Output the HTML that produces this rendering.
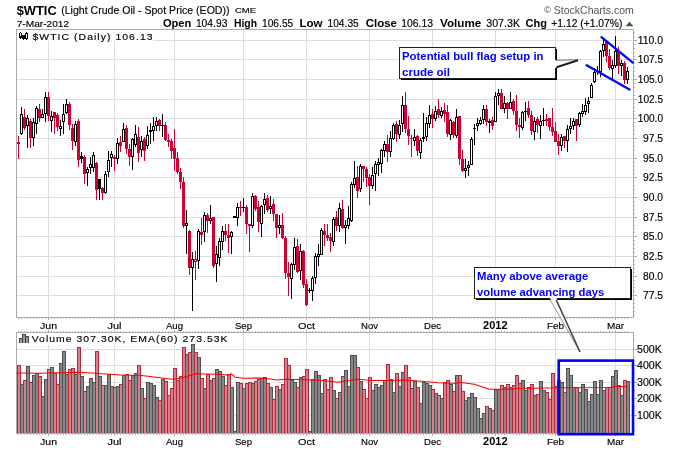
<!DOCTYPE html>
<html><head><meta charset="utf-8"><title>$WTIC</title>
<style>
html,body{margin:0;padding:0;background:#fff;}
body{width:680px;height:450px;overflow:hidden;}
svg{display:block;font-family:"Liberation Sans",sans-serif;}
</style></head><body>
<svg width="680" height="450" viewBox="0 0 680 450">
<defs><filter id="idf" x="-5%" y="-50%" width="110%" height="200%" color-interpolation-filters="sRGB"><feOffset dx="0" dy="0"/></filter></defs>
<rect width="680" height="450" fill="#fff"/>
<g shape-rendering="crispEdges">
<rect x="17" y="40" width="616" height="1" fill="#dddddd"/>
<rect x="17" y="59" width="616" height="1" fill="#dddddd"/>
<rect x="17" y="79" width="616" height="1" fill="#dddddd"/>
<rect x="17" y="99" width="616" height="1" fill="#dddddd"/>
<rect x="17" y="118" width="616" height="1" fill="#dddddd"/>
<rect x="17" y="138" width="616" height="1" fill="#dddddd"/>
<rect x="17" y="158" width="616" height="1" fill="#dddddd"/>
<rect x="17" y="177" width="616" height="1" fill="#dddddd"/>
<rect x="17" y="197" width="616" height="1" fill="#dddddd"/>
<rect x="17" y="217" width="616" height="1" fill="#dddddd"/>
<rect x="17" y="236" width="616" height="1" fill="#dddddd"/>
<rect x="17" y="256" width="616" height="1" fill="#dddddd"/>
<rect x="17" y="276" width="616" height="1" fill="#dddddd"/>
<rect x="17" y="295" width="616" height="1" fill="#dddddd"/>
<rect x="48" y="30" width="1" height="287" fill="#dddddd"/>
<rect x="48" y="333" width="1" height="100" fill="#dddddd"/>
<rect x="114" y="30" width="1" height="287" fill="#dddddd"/>
<rect x="114" y="333" width="1" height="100" fill="#dddddd"/>
<rect x="174" y="30" width="1" height="287" fill="#dddddd"/>
<rect x="174" y="333" width="1" height="100" fill="#dddddd"/>
<rect x="243" y="30" width="1" height="287" fill="#dddddd"/>
<rect x="243" y="333" width="1" height="100" fill="#dddddd"/>
<rect x="306" y="30" width="1" height="287" fill="#dddddd"/>
<rect x="306" y="333" width="1" height="100" fill="#dddddd"/>
<rect x="369" y="30" width="1" height="287" fill="#dddddd"/>
<rect x="369" y="333" width="1" height="100" fill="#dddddd"/>
<rect x="432" y="30" width="1" height="287" fill="#dddddd"/>
<rect x="432" y="333" width="1" height="100" fill="#dddddd"/>
<rect x="495" y="30" width="1" height="287" fill="#dddddd"/>
<rect x="495" y="333" width="1" height="100" fill="#dddddd"/>
<rect x="555" y="30" width="1" height="287" fill="#dddddd"/>
<rect x="555" y="333" width="1" height="100" fill="#dddddd"/>
<rect x="615" y="30" width="1" height="287" fill="#dddddd"/>
<rect x="615" y="333" width="1" height="100" fill="#dddddd"/>
<rect x="17" y="349" width="616" height="1" fill="#dddddd"/>
<rect x="17" y="365" width="616" height="1" fill="#dddddd"/>
<rect x="17" y="382" width="616" height="1" fill="#dddddd"/>
<rect x="17" y="398" width="616" height="1" fill="#dddddd"/>
<rect x="17" y="415" width="616" height="1" fill="#dddddd"/>
<rect x="16" y="29" width="618" height="1" fill="#aaaaaa"/>
<rect x="16" y="29" width="1" height="289" fill="#aaaaaa"/>
<rect x="633" y="29" width="1" height="289" fill="#aaaaaa"/>
<rect x="16" y="317" width="618" height="1" fill="#aaaaaa"/>
<rect x="16" y="332" width="618" height="1" fill="#aaaaaa"/>
<rect x="16" y="332" width="1" height="102" fill="#aaaaaa"/>
<rect x="633" y="332" width="1" height="102" fill="#aaaaaa"/>
<rect x="16" y="433" width="618" height="1" fill="#aaaaaa"/>
<rect x="18" y="318" width="1" height="1" fill="#bbbbbb"/>
<rect x="18" y="331" width="1" height="1" fill="#bbbbbb"/>
<rect x="18" y="434" width="1" height="1" fill="#bbbbbb"/>
<rect x="21" y="318" width="1" height="1" fill="#bbbbbb"/>
<rect x="21" y="331" width="1" height="1" fill="#bbbbbb"/>
<rect x="21" y="434" width="1" height="1" fill="#bbbbbb"/>
<rect x="24" y="318" width="1" height="1" fill="#bbbbbb"/>
<rect x="24" y="331" width="1" height="1" fill="#bbbbbb"/>
<rect x="24" y="434" width="1" height="1" fill="#bbbbbb"/>
<rect x="27" y="318" width="1" height="1" fill="#bbbbbb"/>
<rect x="27" y="331" width="1" height="1" fill="#bbbbbb"/>
<rect x="27" y="434" width="1" height="1" fill="#bbbbbb"/>
<rect x="30" y="318" width="1" height="1" fill="#bbbbbb"/>
<rect x="30" y="331" width="1" height="1" fill="#bbbbbb"/>
<rect x="30" y="434" width="1" height="1" fill="#bbbbbb"/>
<rect x="33" y="318" width="1" height="1" fill="#bbbbbb"/>
<rect x="33" y="331" width="1" height="1" fill="#bbbbbb"/>
<rect x="33" y="434" width="1" height="1" fill="#bbbbbb"/>
<rect x="36" y="318" width="1" height="1" fill="#bbbbbb"/>
<rect x="36" y="331" width="1" height="1" fill="#bbbbbb"/>
<rect x="36" y="434" width="1" height="1" fill="#bbbbbb"/>
<rect x="39" y="318" width="1" height="1" fill="#bbbbbb"/>
<rect x="39" y="331" width="1" height="1" fill="#bbbbbb"/>
<rect x="39" y="434" width="1" height="1" fill="#bbbbbb"/>
<rect x="42" y="318" width="1" height="1" fill="#bbbbbb"/>
<rect x="42" y="331" width="1" height="1" fill="#bbbbbb"/>
<rect x="42" y="434" width="1" height="1" fill="#bbbbbb"/>
<rect x="45" y="318" width="1" height="1" fill="#bbbbbb"/>
<rect x="45" y="331" width="1" height="1" fill="#bbbbbb"/>
<rect x="45" y="434" width="1" height="1" fill="#bbbbbb"/>
<rect x="48" y="318" width="1" height="1" fill="#bbbbbb"/>
<rect x="48" y="331" width="1" height="1" fill="#bbbbbb"/>
<rect x="48" y="434" width="1" height="1" fill="#bbbbbb"/>
<rect x="51" y="318" width="1" height="1" fill="#bbbbbb"/>
<rect x="51" y="331" width="1" height="1" fill="#bbbbbb"/>
<rect x="51" y="434" width="1" height="1" fill="#bbbbbb"/>
<rect x="54" y="318" width="1" height="1" fill="#bbbbbb"/>
<rect x="54" y="331" width="1" height="1" fill="#bbbbbb"/>
<rect x="54" y="434" width="1" height="1" fill="#bbbbbb"/>
<rect x="57" y="318" width="1" height="1" fill="#bbbbbb"/>
<rect x="57" y="331" width="1" height="1" fill="#bbbbbb"/>
<rect x="57" y="434" width="1" height="1" fill="#bbbbbb"/>
<rect x="60" y="318" width="1" height="1" fill="#bbbbbb"/>
<rect x="60" y="331" width="1" height="1" fill="#bbbbbb"/>
<rect x="60" y="434" width="1" height="1" fill="#bbbbbb"/>
<rect x="63" y="318" width="1" height="1" fill="#bbbbbb"/>
<rect x="63" y="331" width="1" height="1" fill="#bbbbbb"/>
<rect x="63" y="434" width="1" height="1" fill="#bbbbbb"/>
<rect x="66" y="318" width="1" height="1" fill="#bbbbbb"/>
<rect x="66" y="331" width="1" height="1" fill="#bbbbbb"/>
<rect x="66" y="434" width="1" height="1" fill="#bbbbbb"/>
<rect x="69" y="318" width="1" height="1" fill="#bbbbbb"/>
<rect x="69" y="331" width="1" height="1" fill="#bbbbbb"/>
<rect x="69" y="434" width="1" height="1" fill="#bbbbbb"/>
<rect x="72" y="318" width="1" height="1" fill="#bbbbbb"/>
<rect x="72" y="331" width="1" height="1" fill="#bbbbbb"/>
<rect x="72" y="434" width="1" height="1" fill="#bbbbbb"/>
<rect x="75" y="318" width="1" height="1" fill="#bbbbbb"/>
<rect x="75" y="331" width="1" height="1" fill="#bbbbbb"/>
<rect x="75" y="434" width="1" height="1" fill="#bbbbbb"/>
<rect x="78" y="318" width="1" height="1" fill="#bbbbbb"/>
<rect x="78" y="331" width="1" height="1" fill="#bbbbbb"/>
<rect x="78" y="434" width="1" height="1" fill="#bbbbbb"/>
<rect x="81" y="318" width="1" height="1" fill="#bbbbbb"/>
<rect x="81" y="331" width="1" height="1" fill="#bbbbbb"/>
<rect x="81" y="434" width="1" height="1" fill="#bbbbbb"/>
<rect x="84" y="318" width="1" height="1" fill="#bbbbbb"/>
<rect x="84" y="331" width="1" height="1" fill="#bbbbbb"/>
<rect x="84" y="434" width="1" height="1" fill="#bbbbbb"/>
<rect x="87" y="318" width="1" height="1" fill="#bbbbbb"/>
<rect x="87" y="331" width="1" height="1" fill="#bbbbbb"/>
<rect x="87" y="434" width="1" height="1" fill="#bbbbbb"/>
<rect x="90" y="318" width="1" height="1" fill="#bbbbbb"/>
<rect x="90" y="331" width="1" height="1" fill="#bbbbbb"/>
<rect x="90" y="434" width="1" height="1" fill="#bbbbbb"/>
<rect x="93" y="318" width="1" height="1" fill="#bbbbbb"/>
<rect x="93" y="331" width="1" height="1" fill="#bbbbbb"/>
<rect x="93" y="434" width="1" height="1" fill="#bbbbbb"/>
<rect x="96" y="318" width="1" height="1" fill="#bbbbbb"/>
<rect x="96" y="331" width="1" height="1" fill="#bbbbbb"/>
<rect x="96" y="434" width="1" height="1" fill="#bbbbbb"/>
<rect x="99" y="318" width="1" height="1" fill="#bbbbbb"/>
<rect x="99" y="331" width="1" height="1" fill="#bbbbbb"/>
<rect x="99" y="434" width="1" height="1" fill="#bbbbbb"/>
<rect x="102" y="318" width="1" height="1" fill="#bbbbbb"/>
<rect x="102" y="331" width="1" height="1" fill="#bbbbbb"/>
<rect x="102" y="434" width="1" height="1" fill="#bbbbbb"/>
<rect x="105" y="318" width="1" height="1" fill="#bbbbbb"/>
<rect x="105" y="331" width="1" height="1" fill="#bbbbbb"/>
<rect x="105" y="434" width="1" height="1" fill="#bbbbbb"/>
<rect x="108" y="318" width="1" height="1" fill="#bbbbbb"/>
<rect x="108" y="331" width="1" height="1" fill="#bbbbbb"/>
<rect x="108" y="434" width="1" height="1" fill="#bbbbbb"/>
<rect x="111" y="318" width="1" height="1" fill="#bbbbbb"/>
<rect x="111" y="331" width="1" height="1" fill="#bbbbbb"/>
<rect x="111" y="434" width="1" height="1" fill="#bbbbbb"/>
<rect x="114" y="318" width="1" height="1" fill="#bbbbbb"/>
<rect x="114" y="331" width="1" height="1" fill="#bbbbbb"/>
<rect x="114" y="434" width="1" height="1" fill="#bbbbbb"/>
<rect x="117" y="318" width="1" height="1" fill="#bbbbbb"/>
<rect x="117" y="331" width="1" height="1" fill="#bbbbbb"/>
<rect x="117" y="434" width="1" height="1" fill="#bbbbbb"/>
<rect x="120" y="318" width="1" height="1" fill="#bbbbbb"/>
<rect x="120" y="331" width="1" height="1" fill="#bbbbbb"/>
<rect x="120" y="434" width="1" height="1" fill="#bbbbbb"/>
<rect x="123" y="318" width="1" height="1" fill="#bbbbbb"/>
<rect x="123" y="331" width="1" height="1" fill="#bbbbbb"/>
<rect x="123" y="434" width="1" height="1" fill="#bbbbbb"/>
<rect x="126" y="318" width="1" height="1" fill="#bbbbbb"/>
<rect x="126" y="331" width="1" height="1" fill="#bbbbbb"/>
<rect x="126" y="434" width="1" height="1" fill="#bbbbbb"/>
<rect x="129" y="318" width="1" height="1" fill="#bbbbbb"/>
<rect x="129" y="331" width="1" height="1" fill="#bbbbbb"/>
<rect x="129" y="434" width="1" height="1" fill="#bbbbbb"/>
<rect x="132" y="318" width="1" height="1" fill="#bbbbbb"/>
<rect x="132" y="331" width="1" height="1" fill="#bbbbbb"/>
<rect x="132" y="434" width="1" height="1" fill="#bbbbbb"/>
<rect x="135" y="318" width="1" height="1" fill="#bbbbbb"/>
<rect x="135" y="331" width="1" height="1" fill="#bbbbbb"/>
<rect x="135" y="434" width="1" height="1" fill="#bbbbbb"/>
<rect x="138" y="318" width="1" height="1" fill="#bbbbbb"/>
<rect x="138" y="331" width="1" height="1" fill="#bbbbbb"/>
<rect x="138" y="434" width="1" height="1" fill="#bbbbbb"/>
<rect x="141" y="318" width="1" height="1" fill="#bbbbbb"/>
<rect x="141" y="331" width="1" height="1" fill="#bbbbbb"/>
<rect x="141" y="434" width="1" height="1" fill="#bbbbbb"/>
<rect x="144" y="318" width="1" height="1" fill="#bbbbbb"/>
<rect x="144" y="331" width="1" height="1" fill="#bbbbbb"/>
<rect x="144" y="434" width="1" height="1" fill="#bbbbbb"/>
<rect x="147" y="318" width="1" height="1" fill="#bbbbbb"/>
<rect x="147" y="331" width="1" height="1" fill="#bbbbbb"/>
<rect x="147" y="434" width="1" height="1" fill="#bbbbbb"/>
<rect x="150" y="318" width="1" height="1" fill="#bbbbbb"/>
<rect x="150" y="331" width="1" height="1" fill="#bbbbbb"/>
<rect x="150" y="434" width="1" height="1" fill="#bbbbbb"/>
<rect x="153" y="318" width="1" height="1" fill="#bbbbbb"/>
<rect x="153" y="331" width="1" height="1" fill="#bbbbbb"/>
<rect x="153" y="434" width="1" height="1" fill="#bbbbbb"/>
<rect x="156" y="318" width="1" height="1" fill="#bbbbbb"/>
<rect x="156" y="331" width="1" height="1" fill="#bbbbbb"/>
<rect x="156" y="434" width="1" height="1" fill="#bbbbbb"/>
<rect x="159" y="318" width="1" height="1" fill="#bbbbbb"/>
<rect x="159" y="331" width="1" height="1" fill="#bbbbbb"/>
<rect x="159" y="434" width="1" height="1" fill="#bbbbbb"/>
<rect x="162" y="318" width="1" height="1" fill="#bbbbbb"/>
<rect x="162" y="331" width="1" height="1" fill="#bbbbbb"/>
<rect x="162" y="434" width="1" height="1" fill="#bbbbbb"/>
<rect x="165" y="318" width="1" height="1" fill="#bbbbbb"/>
<rect x="165" y="331" width="1" height="1" fill="#bbbbbb"/>
<rect x="165" y="434" width="1" height="1" fill="#bbbbbb"/>
<rect x="168" y="318" width="1" height="1" fill="#bbbbbb"/>
<rect x="168" y="331" width="1" height="1" fill="#bbbbbb"/>
<rect x="168" y="434" width="1" height="1" fill="#bbbbbb"/>
<rect x="171" y="318" width="1" height="1" fill="#bbbbbb"/>
<rect x="171" y="331" width="1" height="1" fill="#bbbbbb"/>
<rect x="171" y="434" width="1" height="1" fill="#bbbbbb"/>
<rect x="174" y="318" width="1" height="1" fill="#bbbbbb"/>
<rect x="174" y="331" width="1" height="1" fill="#bbbbbb"/>
<rect x="174" y="434" width="1" height="1" fill="#bbbbbb"/>
<rect x="177" y="318" width="1" height="1" fill="#bbbbbb"/>
<rect x="177" y="331" width="1" height="1" fill="#bbbbbb"/>
<rect x="177" y="434" width="1" height="1" fill="#bbbbbb"/>
<rect x="180" y="318" width="1" height="1" fill="#bbbbbb"/>
<rect x="180" y="331" width="1" height="1" fill="#bbbbbb"/>
<rect x="180" y="434" width="1" height="1" fill="#bbbbbb"/>
<rect x="183" y="318" width="1" height="1" fill="#bbbbbb"/>
<rect x="183" y="331" width="1" height="1" fill="#bbbbbb"/>
<rect x="183" y="434" width="1" height="1" fill="#bbbbbb"/>
<rect x="186" y="318" width="1" height="1" fill="#bbbbbb"/>
<rect x="186" y="331" width="1" height="1" fill="#bbbbbb"/>
<rect x="186" y="434" width="1" height="1" fill="#bbbbbb"/>
<rect x="189" y="318" width="1" height="1" fill="#bbbbbb"/>
<rect x="189" y="331" width="1" height="1" fill="#bbbbbb"/>
<rect x="189" y="434" width="1" height="1" fill="#bbbbbb"/>
<rect x="192" y="318" width="1" height="1" fill="#bbbbbb"/>
<rect x="192" y="331" width="1" height="1" fill="#bbbbbb"/>
<rect x="192" y="434" width="1" height="1" fill="#bbbbbb"/>
<rect x="195" y="318" width="1" height="1" fill="#bbbbbb"/>
<rect x="195" y="331" width="1" height="1" fill="#bbbbbb"/>
<rect x="195" y="434" width="1" height="1" fill="#bbbbbb"/>
<rect x="198" y="318" width="1" height="1" fill="#bbbbbb"/>
<rect x="198" y="331" width="1" height="1" fill="#bbbbbb"/>
<rect x="198" y="434" width="1" height="1" fill="#bbbbbb"/>
<rect x="201" y="318" width="1" height="1" fill="#bbbbbb"/>
<rect x="201" y="331" width="1" height="1" fill="#bbbbbb"/>
<rect x="201" y="434" width="1" height="1" fill="#bbbbbb"/>
<rect x="204" y="318" width="1" height="1" fill="#bbbbbb"/>
<rect x="204" y="331" width="1" height="1" fill="#bbbbbb"/>
<rect x="204" y="434" width="1" height="1" fill="#bbbbbb"/>
<rect x="207" y="318" width="1" height="1" fill="#bbbbbb"/>
<rect x="207" y="331" width="1" height="1" fill="#bbbbbb"/>
<rect x="207" y="434" width="1" height="1" fill="#bbbbbb"/>
<rect x="210" y="318" width="1" height="1" fill="#bbbbbb"/>
<rect x="210" y="331" width="1" height="1" fill="#bbbbbb"/>
<rect x="210" y="434" width="1" height="1" fill="#bbbbbb"/>
<rect x="213" y="318" width="1" height="1" fill="#bbbbbb"/>
<rect x="213" y="331" width="1" height="1" fill="#bbbbbb"/>
<rect x="213" y="434" width="1" height="1" fill="#bbbbbb"/>
<rect x="216" y="318" width="1" height="1" fill="#bbbbbb"/>
<rect x="216" y="331" width="1" height="1" fill="#bbbbbb"/>
<rect x="216" y="434" width="1" height="1" fill="#bbbbbb"/>
<rect x="219" y="318" width="1" height="1" fill="#bbbbbb"/>
<rect x="219" y="331" width="1" height="1" fill="#bbbbbb"/>
<rect x="219" y="434" width="1" height="1" fill="#bbbbbb"/>
<rect x="222" y="318" width="1" height="1" fill="#bbbbbb"/>
<rect x="222" y="331" width="1" height="1" fill="#bbbbbb"/>
<rect x="222" y="434" width="1" height="1" fill="#bbbbbb"/>
<rect x="225" y="318" width="1" height="1" fill="#bbbbbb"/>
<rect x="225" y="331" width="1" height="1" fill="#bbbbbb"/>
<rect x="225" y="434" width="1" height="1" fill="#bbbbbb"/>
<rect x="228" y="318" width="1" height="1" fill="#bbbbbb"/>
<rect x="228" y="331" width="1" height="1" fill="#bbbbbb"/>
<rect x="228" y="434" width="1" height="1" fill="#bbbbbb"/>
<rect x="231" y="318" width="1" height="1" fill="#bbbbbb"/>
<rect x="231" y="331" width="1" height="1" fill="#bbbbbb"/>
<rect x="231" y="434" width="1" height="1" fill="#bbbbbb"/>
<rect x="234" y="318" width="1" height="1" fill="#bbbbbb"/>
<rect x="234" y="331" width="1" height="1" fill="#bbbbbb"/>
<rect x="234" y="434" width="1" height="1" fill="#bbbbbb"/>
<rect x="237" y="318" width="1" height="1" fill="#bbbbbb"/>
<rect x="237" y="331" width="1" height="1" fill="#bbbbbb"/>
<rect x="237" y="434" width="1" height="1" fill="#bbbbbb"/>
<rect x="240" y="318" width="1" height="1" fill="#bbbbbb"/>
<rect x="240" y="331" width="1" height="1" fill="#bbbbbb"/>
<rect x="240" y="434" width="1" height="1" fill="#bbbbbb"/>
<rect x="243" y="318" width="1" height="1" fill="#bbbbbb"/>
<rect x="243" y="331" width="1" height="1" fill="#bbbbbb"/>
<rect x="243" y="434" width="1" height="1" fill="#bbbbbb"/>
<rect x="246" y="318" width="1" height="1" fill="#bbbbbb"/>
<rect x="246" y="331" width="1" height="1" fill="#bbbbbb"/>
<rect x="246" y="434" width="1" height="1" fill="#bbbbbb"/>
<rect x="249" y="318" width="1" height="1" fill="#bbbbbb"/>
<rect x="249" y="331" width="1" height="1" fill="#bbbbbb"/>
<rect x="249" y="434" width="1" height="1" fill="#bbbbbb"/>
<rect x="252" y="318" width="1" height="1" fill="#bbbbbb"/>
<rect x="252" y="331" width="1" height="1" fill="#bbbbbb"/>
<rect x="252" y="434" width="1" height="1" fill="#bbbbbb"/>
<rect x="255" y="318" width="1" height="1" fill="#bbbbbb"/>
<rect x="255" y="331" width="1" height="1" fill="#bbbbbb"/>
<rect x="255" y="434" width="1" height="1" fill="#bbbbbb"/>
<rect x="258" y="318" width="1" height="1" fill="#bbbbbb"/>
<rect x="258" y="331" width="1" height="1" fill="#bbbbbb"/>
<rect x="258" y="434" width="1" height="1" fill="#bbbbbb"/>
<rect x="261" y="318" width="1" height="1" fill="#bbbbbb"/>
<rect x="261" y="331" width="1" height="1" fill="#bbbbbb"/>
<rect x="261" y="434" width="1" height="1" fill="#bbbbbb"/>
<rect x="264" y="318" width="1" height="1" fill="#bbbbbb"/>
<rect x="264" y="331" width="1" height="1" fill="#bbbbbb"/>
<rect x="264" y="434" width="1" height="1" fill="#bbbbbb"/>
<rect x="267" y="318" width="1" height="1" fill="#bbbbbb"/>
<rect x="267" y="331" width="1" height="1" fill="#bbbbbb"/>
<rect x="267" y="434" width="1" height="1" fill="#bbbbbb"/>
<rect x="270" y="318" width="1" height="1" fill="#bbbbbb"/>
<rect x="270" y="331" width="1" height="1" fill="#bbbbbb"/>
<rect x="270" y="434" width="1" height="1" fill="#bbbbbb"/>
<rect x="273" y="318" width="1" height="1" fill="#bbbbbb"/>
<rect x="273" y="331" width="1" height="1" fill="#bbbbbb"/>
<rect x="273" y="434" width="1" height="1" fill="#bbbbbb"/>
<rect x="276" y="318" width="1" height="1" fill="#bbbbbb"/>
<rect x="276" y="331" width="1" height="1" fill="#bbbbbb"/>
<rect x="276" y="434" width="1" height="1" fill="#bbbbbb"/>
<rect x="279" y="318" width="1" height="1" fill="#bbbbbb"/>
<rect x="279" y="331" width="1" height="1" fill="#bbbbbb"/>
<rect x="279" y="434" width="1" height="1" fill="#bbbbbb"/>
<rect x="282" y="318" width="1" height="1" fill="#bbbbbb"/>
<rect x="282" y="331" width="1" height="1" fill="#bbbbbb"/>
<rect x="282" y="434" width="1" height="1" fill="#bbbbbb"/>
<rect x="285" y="318" width="1" height="1" fill="#bbbbbb"/>
<rect x="285" y="331" width="1" height="1" fill="#bbbbbb"/>
<rect x="285" y="434" width="1" height="1" fill="#bbbbbb"/>
<rect x="288" y="318" width="1" height="1" fill="#bbbbbb"/>
<rect x="288" y="331" width="1" height="1" fill="#bbbbbb"/>
<rect x="288" y="434" width="1" height="1" fill="#bbbbbb"/>
<rect x="291" y="318" width="1" height="1" fill="#bbbbbb"/>
<rect x="291" y="331" width="1" height="1" fill="#bbbbbb"/>
<rect x="291" y="434" width="1" height="1" fill="#bbbbbb"/>
<rect x="294" y="318" width="1" height="1" fill="#bbbbbb"/>
<rect x="294" y="331" width="1" height="1" fill="#bbbbbb"/>
<rect x="294" y="434" width="1" height="1" fill="#bbbbbb"/>
<rect x="297" y="318" width="1" height="1" fill="#bbbbbb"/>
<rect x="297" y="331" width="1" height="1" fill="#bbbbbb"/>
<rect x="297" y="434" width="1" height="1" fill="#bbbbbb"/>
<rect x="300" y="318" width="1" height="1" fill="#bbbbbb"/>
<rect x="300" y="331" width="1" height="1" fill="#bbbbbb"/>
<rect x="300" y="434" width="1" height="1" fill="#bbbbbb"/>
<rect x="303" y="318" width="1" height="1" fill="#bbbbbb"/>
<rect x="303" y="331" width="1" height="1" fill="#bbbbbb"/>
<rect x="303" y="434" width="1" height="1" fill="#bbbbbb"/>
<rect x="306" y="318" width="1" height="1" fill="#bbbbbb"/>
<rect x="306" y="331" width="1" height="1" fill="#bbbbbb"/>
<rect x="306" y="434" width="1" height="1" fill="#bbbbbb"/>
<rect x="309" y="318" width="1" height="1" fill="#bbbbbb"/>
<rect x="309" y="331" width="1" height="1" fill="#bbbbbb"/>
<rect x="309" y="434" width="1" height="1" fill="#bbbbbb"/>
<rect x="312" y="318" width="1" height="1" fill="#bbbbbb"/>
<rect x="312" y="331" width="1" height="1" fill="#bbbbbb"/>
<rect x="312" y="434" width="1" height="1" fill="#bbbbbb"/>
<rect x="315" y="318" width="1" height="1" fill="#bbbbbb"/>
<rect x="315" y="331" width="1" height="1" fill="#bbbbbb"/>
<rect x="315" y="434" width="1" height="1" fill="#bbbbbb"/>
<rect x="318" y="318" width="1" height="1" fill="#bbbbbb"/>
<rect x="318" y="331" width="1" height="1" fill="#bbbbbb"/>
<rect x="318" y="434" width="1" height="1" fill="#bbbbbb"/>
<rect x="321" y="318" width="1" height="1" fill="#bbbbbb"/>
<rect x="321" y="331" width="1" height="1" fill="#bbbbbb"/>
<rect x="321" y="434" width="1" height="1" fill="#bbbbbb"/>
<rect x="324" y="318" width="1" height="1" fill="#bbbbbb"/>
<rect x="324" y="331" width="1" height="1" fill="#bbbbbb"/>
<rect x="324" y="434" width="1" height="1" fill="#bbbbbb"/>
<rect x="327" y="318" width="1" height="1" fill="#bbbbbb"/>
<rect x="327" y="331" width="1" height="1" fill="#bbbbbb"/>
<rect x="327" y="434" width="1" height="1" fill="#bbbbbb"/>
<rect x="330" y="318" width="1" height="1" fill="#bbbbbb"/>
<rect x="330" y="331" width="1" height="1" fill="#bbbbbb"/>
<rect x="330" y="434" width="1" height="1" fill="#bbbbbb"/>
<rect x="333" y="318" width="1" height="1" fill="#bbbbbb"/>
<rect x="333" y="331" width="1" height="1" fill="#bbbbbb"/>
<rect x="333" y="434" width="1" height="1" fill="#bbbbbb"/>
<rect x="336" y="318" width="1" height="1" fill="#bbbbbb"/>
<rect x="336" y="331" width="1" height="1" fill="#bbbbbb"/>
<rect x="336" y="434" width="1" height="1" fill="#bbbbbb"/>
<rect x="339" y="318" width="1" height="1" fill="#bbbbbb"/>
<rect x="339" y="331" width="1" height="1" fill="#bbbbbb"/>
<rect x="339" y="434" width="1" height="1" fill="#bbbbbb"/>
<rect x="342" y="318" width="1" height="1" fill="#bbbbbb"/>
<rect x="342" y="331" width="1" height="1" fill="#bbbbbb"/>
<rect x="342" y="434" width="1" height="1" fill="#bbbbbb"/>
<rect x="345" y="318" width="1" height="1" fill="#bbbbbb"/>
<rect x="345" y="331" width="1" height="1" fill="#bbbbbb"/>
<rect x="345" y="434" width="1" height="1" fill="#bbbbbb"/>
<rect x="348" y="318" width="1" height="1" fill="#bbbbbb"/>
<rect x="348" y="331" width="1" height="1" fill="#bbbbbb"/>
<rect x="348" y="434" width="1" height="1" fill="#bbbbbb"/>
<rect x="351" y="318" width="1" height="1" fill="#bbbbbb"/>
<rect x="351" y="331" width="1" height="1" fill="#bbbbbb"/>
<rect x="351" y="434" width="1" height="1" fill="#bbbbbb"/>
<rect x="354" y="318" width="1" height="1" fill="#bbbbbb"/>
<rect x="354" y="331" width="1" height="1" fill="#bbbbbb"/>
<rect x="354" y="434" width="1" height="1" fill="#bbbbbb"/>
<rect x="357" y="318" width="1" height="1" fill="#bbbbbb"/>
<rect x="357" y="331" width="1" height="1" fill="#bbbbbb"/>
<rect x="357" y="434" width="1" height="1" fill="#bbbbbb"/>
<rect x="360" y="318" width="1" height="1" fill="#bbbbbb"/>
<rect x="360" y="331" width="1" height="1" fill="#bbbbbb"/>
<rect x="360" y="434" width="1" height="1" fill="#bbbbbb"/>
<rect x="363" y="318" width="1" height="1" fill="#bbbbbb"/>
<rect x="363" y="331" width="1" height="1" fill="#bbbbbb"/>
<rect x="363" y="434" width="1" height="1" fill="#bbbbbb"/>
<rect x="366" y="318" width="1" height="1" fill="#bbbbbb"/>
<rect x="366" y="331" width="1" height="1" fill="#bbbbbb"/>
<rect x="366" y="434" width="1" height="1" fill="#bbbbbb"/>
<rect x="369" y="318" width="1" height="1" fill="#bbbbbb"/>
<rect x="369" y="331" width="1" height="1" fill="#bbbbbb"/>
<rect x="369" y="434" width="1" height="1" fill="#bbbbbb"/>
<rect x="372" y="318" width="1" height="1" fill="#bbbbbb"/>
<rect x="372" y="331" width="1" height="1" fill="#bbbbbb"/>
<rect x="372" y="434" width="1" height="1" fill="#bbbbbb"/>
<rect x="375" y="318" width="1" height="1" fill="#bbbbbb"/>
<rect x="375" y="331" width="1" height="1" fill="#bbbbbb"/>
<rect x="375" y="434" width="1" height="1" fill="#bbbbbb"/>
<rect x="378" y="318" width="1" height="1" fill="#bbbbbb"/>
<rect x="378" y="331" width="1" height="1" fill="#bbbbbb"/>
<rect x="378" y="434" width="1" height="1" fill="#bbbbbb"/>
<rect x="381" y="318" width="1" height="1" fill="#bbbbbb"/>
<rect x="381" y="331" width="1" height="1" fill="#bbbbbb"/>
<rect x="381" y="434" width="1" height="1" fill="#bbbbbb"/>
<rect x="384" y="318" width="1" height="1" fill="#bbbbbb"/>
<rect x="384" y="331" width="1" height="1" fill="#bbbbbb"/>
<rect x="384" y="434" width="1" height="1" fill="#bbbbbb"/>
<rect x="387" y="318" width="1" height="1" fill="#bbbbbb"/>
<rect x="387" y="331" width="1" height="1" fill="#bbbbbb"/>
<rect x="387" y="434" width="1" height="1" fill="#bbbbbb"/>
<rect x="390" y="318" width="1" height="1" fill="#bbbbbb"/>
<rect x="390" y="331" width="1" height="1" fill="#bbbbbb"/>
<rect x="390" y="434" width="1" height="1" fill="#bbbbbb"/>
<rect x="393" y="318" width="1" height="1" fill="#bbbbbb"/>
<rect x="393" y="331" width="1" height="1" fill="#bbbbbb"/>
<rect x="393" y="434" width="1" height="1" fill="#bbbbbb"/>
<rect x="396" y="318" width="1" height="1" fill="#bbbbbb"/>
<rect x="396" y="331" width="1" height="1" fill="#bbbbbb"/>
<rect x="396" y="434" width="1" height="1" fill="#bbbbbb"/>
<rect x="399" y="318" width="1" height="1" fill="#bbbbbb"/>
<rect x="399" y="331" width="1" height="1" fill="#bbbbbb"/>
<rect x="399" y="434" width="1" height="1" fill="#bbbbbb"/>
<rect x="402" y="318" width="1" height="1" fill="#bbbbbb"/>
<rect x="402" y="331" width="1" height="1" fill="#bbbbbb"/>
<rect x="402" y="434" width="1" height="1" fill="#bbbbbb"/>
<rect x="405" y="318" width="1" height="1" fill="#bbbbbb"/>
<rect x="405" y="331" width="1" height="1" fill="#bbbbbb"/>
<rect x="405" y="434" width="1" height="1" fill="#bbbbbb"/>
<rect x="408" y="318" width="1" height="1" fill="#bbbbbb"/>
<rect x="408" y="331" width="1" height="1" fill="#bbbbbb"/>
<rect x="408" y="434" width="1" height="1" fill="#bbbbbb"/>
<rect x="411" y="318" width="1" height="1" fill="#bbbbbb"/>
<rect x="411" y="331" width="1" height="1" fill="#bbbbbb"/>
<rect x="411" y="434" width="1" height="1" fill="#bbbbbb"/>
<rect x="414" y="318" width="1" height="1" fill="#bbbbbb"/>
<rect x="414" y="331" width="1" height="1" fill="#bbbbbb"/>
<rect x="414" y="434" width="1" height="1" fill="#bbbbbb"/>
<rect x="417" y="318" width="1" height="1" fill="#bbbbbb"/>
<rect x="417" y="331" width="1" height="1" fill="#bbbbbb"/>
<rect x="417" y="434" width="1" height="1" fill="#bbbbbb"/>
<rect x="420" y="318" width="1" height="1" fill="#bbbbbb"/>
<rect x="420" y="331" width="1" height="1" fill="#bbbbbb"/>
<rect x="420" y="434" width="1" height="1" fill="#bbbbbb"/>
<rect x="423" y="318" width="1" height="1" fill="#bbbbbb"/>
<rect x="423" y="331" width="1" height="1" fill="#bbbbbb"/>
<rect x="423" y="434" width="1" height="1" fill="#bbbbbb"/>
<rect x="426" y="318" width="1" height="1" fill="#bbbbbb"/>
<rect x="426" y="331" width="1" height="1" fill="#bbbbbb"/>
<rect x="426" y="434" width="1" height="1" fill="#bbbbbb"/>
<rect x="429" y="318" width="1" height="1" fill="#bbbbbb"/>
<rect x="429" y="331" width="1" height="1" fill="#bbbbbb"/>
<rect x="429" y="434" width="1" height="1" fill="#bbbbbb"/>
<rect x="432" y="318" width="1" height="1" fill="#bbbbbb"/>
<rect x="432" y="331" width="1" height="1" fill="#bbbbbb"/>
<rect x="432" y="434" width="1" height="1" fill="#bbbbbb"/>
<rect x="435" y="318" width="1" height="1" fill="#bbbbbb"/>
<rect x="435" y="331" width="1" height="1" fill="#bbbbbb"/>
<rect x="435" y="434" width="1" height="1" fill="#bbbbbb"/>
<rect x="438" y="318" width="1" height="1" fill="#bbbbbb"/>
<rect x="438" y="331" width="1" height="1" fill="#bbbbbb"/>
<rect x="438" y="434" width="1" height="1" fill="#bbbbbb"/>
<rect x="441" y="318" width="1" height="1" fill="#bbbbbb"/>
<rect x="441" y="331" width="1" height="1" fill="#bbbbbb"/>
<rect x="441" y="434" width="1" height="1" fill="#bbbbbb"/>
<rect x="444" y="318" width="1" height="1" fill="#bbbbbb"/>
<rect x="444" y="331" width="1" height="1" fill="#bbbbbb"/>
<rect x="444" y="434" width="1" height="1" fill="#bbbbbb"/>
<rect x="447" y="318" width="1" height="1" fill="#bbbbbb"/>
<rect x="447" y="331" width="1" height="1" fill="#bbbbbb"/>
<rect x="447" y="434" width="1" height="1" fill="#bbbbbb"/>
<rect x="450" y="318" width="1" height="1" fill="#bbbbbb"/>
<rect x="450" y="331" width="1" height="1" fill="#bbbbbb"/>
<rect x="450" y="434" width="1" height="1" fill="#bbbbbb"/>
<rect x="453" y="318" width="1" height="1" fill="#bbbbbb"/>
<rect x="453" y="331" width="1" height="1" fill="#bbbbbb"/>
<rect x="453" y="434" width="1" height="1" fill="#bbbbbb"/>
<rect x="456" y="318" width="1" height="1" fill="#bbbbbb"/>
<rect x="456" y="331" width="1" height="1" fill="#bbbbbb"/>
<rect x="456" y="434" width="1" height="1" fill="#bbbbbb"/>
<rect x="459" y="318" width="1" height="1" fill="#bbbbbb"/>
<rect x="459" y="331" width="1" height="1" fill="#bbbbbb"/>
<rect x="459" y="434" width="1" height="1" fill="#bbbbbb"/>
<rect x="462" y="318" width="1" height="1" fill="#bbbbbb"/>
<rect x="462" y="331" width="1" height="1" fill="#bbbbbb"/>
<rect x="462" y="434" width="1" height="1" fill="#bbbbbb"/>
<rect x="465" y="318" width="1" height="1" fill="#bbbbbb"/>
<rect x="465" y="331" width="1" height="1" fill="#bbbbbb"/>
<rect x="465" y="434" width="1" height="1" fill="#bbbbbb"/>
<rect x="468" y="318" width="1" height="1" fill="#bbbbbb"/>
<rect x="468" y="331" width="1" height="1" fill="#bbbbbb"/>
<rect x="468" y="434" width="1" height="1" fill="#bbbbbb"/>
<rect x="471" y="318" width="1" height="1" fill="#bbbbbb"/>
<rect x="471" y="331" width="1" height="1" fill="#bbbbbb"/>
<rect x="471" y="434" width="1" height="1" fill="#bbbbbb"/>
<rect x="474" y="318" width="1" height="1" fill="#bbbbbb"/>
<rect x="474" y="331" width="1" height="1" fill="#bbbbbb"/>
<rect x="474" y="434" width="1" height="1" fill="#bbbbbb"/>
<rect x="477" y="318" width="1" height="1" fill="#bbbbbb"/>
<rect x="477" y="331" width="1" height="1" fill="#bbbbbb"/>
<rect x="477" y="434" width="1" height="1" fill="#bbbbbb"/>
<rect x="480" y="318" width="1" height="1" fill="#bbbbbb"/>
<rect x="480" y="331" width="1" height="1" fill="#bbbbbb"/>
<rect x="480" y="434" width="1" height="1" fill="#bbbbbb"/>
<rect x="483" y="318" width="1" height="1" fill="#bbbbbb"/>
<rect x="483" y="331" width="1" height="1" fill="#bbbbbb"/>
<rect x="483" y="434" width="1" height="1" fill="#bbbbbb"/>
<rect x="486" y="318" width="1" height="1" fill="#bbbbbb"/>
<rect x="486" y="331" width="1" height="1" fill="#bbbbbb"/>
<rect x="486" y="434" width="1" height="1" fill="#bbbbbb"/>
<rect x="489" y="318" width="1" height="1" fill="#bbbbbb"/>
<rect x="489" y="331" width="1" height="1" fill="#bbbbbb"/>
<rect x="489" y="434" width="1" height="1" fill="#bbbbbb"/>
<rect x="492" y="318" width="1" height="1" fill="#bbbbbb"/>
<rect x="492" y="331" width="1" height="1" fill="#bbbbbb"/>
<rect x="492" y="434" width="1" height="1" fill="#bbbbbb"/>
<rect x="495" y="318" width="1" height="1" fill="#bbbbbb"/>
<rect x="495" y="331" width="1" height="1" fill="#bbbbbb"/>
<rect x="495" y="434" width="1" height="1" fill="#bbbbbb"/>
<rect x="498" y="318" width="1" height="1" fill="#bbbbbb"/>
<rect x="498" y="331" width="1" height="1" fill="#bbbbbb"/>
<rect x="498" y="434" width="1" height="1" fill="#bbbbbb"/>
<rect x="501" y="318" width="1" height="1" fill="#bbbbbb"/>
<rect x="501" y="331" width="1" height="1" fill="#bbbbbb"/>
<rect x="501" y="434" width="1" height="1" fill="#bbbbbb"/>
<rect x="504" y="318" width="1" height="1" fill="#bbbbbb"/>
<rect x="504" y="331" width="1" height="1" fill="#bbbbbb"/>
<rect x="504" y="434" width="1" height="1" fill="#bbbbbb"/>
<rect x="507" y="318" width="1" height="1" fill="#bbbbbb"/>
<rect x="507" y="331" width="1" height="1" fill="#bbbbbb"/>
<rect x="507" y="434" width="1" height="1" fill="#bbbbbb"/>
<rect x="510" y="318" width="1" height="1" fill="#bbbbbb"/>
<rect x="510" y="331" width="1" height="1" fill="#bbbbbb"/>
<rect x="510" y="434" width="1" height="1" fill="#bbbbbb"/>
<rect x="513" y="318" width="1" height="1" fill="#bbbbbb"/>
<rect x="513" y="331" width="1" height="1" fill="#bbbbbb"/>
<rect x="513" y="434" width="1" height="1" fill="#bbbbbb"/>
<rect x="516" y="318" width="1" height="1" fill="#bbbbbb"/>
<rect x="516" y="331" width="1" height="1" fill="#bbbbbb"/>
<rect x="516" y="434" width="1" height="1" fill="#bbbbbb"/>
<rect x="519" y="318" width="1" height="1" fill="#bbbbbb"/>
<rect x="519" y="331" width="1" height="1" fill="#bbbbbb"/>
<rect x="519" y="434" width="1" height="1" fill="#bbbbbb"/>
<rect x="522" y="318" width="1" height="1" fill="#bbbbbb"/>
<rect x="522" y="331" width="1" height="1" fill="#bbbbbb"/>
<rect x="522" y="434" width="1" height="1" fill="#bbbbbb"/>
<rect x="525" y="318" width="1" height="1" fill="#bbbbbb"/>
<rect x="525" y="331" width="1" height="1" fill="#bbbbbb"/>
<rect x="525" y="434" width="1" height="1" fill="#bbbbbb"/>
<rect x="528" y="318" width="1" height="1" fill="#bbbbbb"/>
<rect x="528" y="331" width="1" height="1" fill="#bbbbbb"/>
<rect x="528" y="434" width="1" height="1" fill="#bbbbbb"/>
<rect x="531" y="318" width="1" height="1" fill="#bbbbbb"/>
<rect x="531" y="331" width="1" height="1" fill="#bbbbbb"/>
<rect x="531" y="434" width="1" height="1" fill="#bbbbbb"/>
<rect x="534" y="318" width="1" height="1" fill="#bbbbbb"/>
<rect x="534" y="331" width="1" height="1" fill="#bbbbbb"/>
<rect x="534" y="434" width="1" height="1" fill="#bbbbbb"/>
<rect x="537" y="318" width="1" height="1" fill="#bbbbbb"/>
<rect x="537" y="331" width="1" height="1" fill="#bbbbbb"/>
<rect x="537" y="434" width="1" height="1" fill="#bbbbbb"/>
<rect x="540" y="318" width="1" height="1" fill="#bbbbbb"/>
<rect x="540" y="331" width="1" height="1" fill="#bbbbbb"/>
<rect x="540" y="434" width="1" height="1" fill="#bbbbbb"/>
<rect x="543" y="318" width="1" height="1" fill="#bbbbbb"/>
<rect x="543" y="331" width="1" height="1" fill="#bbbbbb"/>
<rect x="543" y="434" width="1" height="1" fill="#bbbbbb"/>
<rect x="546" y="318" width="1" height="1" fill="#bbbbbb"/>
<rect x="546" y="331" width="1" height="1" fill="#bbbbbb"/>
<rect x="546" y="434" width="1" height="1" fill="#bbbbbb"/>
<rect x="549" y="318" width="1" height="1" fill="#bbbbbb"/>
<rect x="549" y="331" width="1" height="1" fill="#bbbbbb"/>
<rect x="549" y="434" width="1" height="1" fill="#bbbbbb"/>
<rect x="552" y="318" width="1" height="1" fill="#bbbbbb"/>
<rect x="552" y="331" width="1" height="1" fill="#bbbbbb"/>
<rect x="552" y="434" width="1" height="1" fill="#bbbbbb"/>
<rect x="555" y="318" width="1" height="1" fill="#bbbbbb"/>
<rect x="555" y="331" width="1" height="1" fill="#bbbbbb"/>
<rect x="555" y="434" width="1" height="1" fill="#bbbbbb"/>
<rect x="558" y="318" width="1" height="1" fill="#bbbbbb"/>
<rect x="558" y="331" width="1" height="1" fill="#bbbbbb"/>
<rect x="558" y="434" width="1" height="1" fill="#bbbbbb"/>
<rect x="561" y="318" width="1" height="1" fill="#bbbbbb"/>
<rect x="561" y="331" width="1" height="1" fill="#bbbbbb"/>
<rect x="561" y="434" width="1" height="1" fill="#bbbbbb"/>
<rect x="564" y="318" width="1" height="1" fill="#bbbbbb"/>
<rect x="564" y="331" width="1" height="1" fill="#bbbbbb"/>
<rect x="564" y="434" width="1" height="1" fill="#bbbbbb"/>
<rect x="567" y="318" width="1" height="1" fill="#bbbbbb"/>
<rect x="567" y="331" width="1" height="1" fill="#bbbbbb"/>
<rect x="567" y="434" width="1" height="1" fill="#bbbbbb"/>
<rect x="570" y="318" width="1" height="1" fill="#bbbbbb"/>
<rect x="570" y="331" width="1" height="1" fill="#bbbbbb"/>
<rect x="570" y="434" width="1" height="1" fill="#bbbbbb"/>
<rect x="573" y="318" width="1" height="1" fill="#bbbbbb"/>
<rect x="573" y="331" width="1" height="1" fill="#bbbbbb"/>
<rect x="573" y="434" width="1" height="1" fill="#bbbbbb"/>
<rect x="576" y="318" width="1" height="1" fill="#bbbbbb"/>
<rect x="576" y="331" width="1" height="1" fill="#bbbbbb"/>
<rect x="576" y="434" width="1" height="1" fill="#bbbbbb"/>
<rect x="579" y="318" width="1" height="1" fill="#bbbbbb"/>
<rect x="579" y="331" width="1" height="1" fill="#bbbbbb"/>
<rect x="579" y="434" width="1" height="1" fill="#bbbbbb"/>
<rect x="582" y="318" width="1" height="1" fill="#bbbbbb"/>
<rect x="582" y="331" width="1" height="1" fill="#bbbbbb"/>
<rect x="582" y="434" width="1" height="1" fill="#bbbbbb"/>
<rect x="585" y="318" width="1" height="1" fill="#bbbbbb"/>
<rect x="585" y="331" width="1" height="1" fill="#bbbbbb"/>
<rect x="585" y="434" width="1" height="1" fill="#bbbbbb"/>
<rect x="588" y="318" width="1" height="1" fill="#bbbbbb"/>
<rect x="588" y="331" width="1" height="1" fill="#bbbbbb"/>
<rect x="588" y="434" width="1" height="1" fill="#bbbbbb"/>
<rect x="591" y="318" width="1" height="1" fill="#bbbbbb"/>
<rect x="591" y="331" width="1" height="1" fill="#bbbbbb"/>
<rect x="591" y="434" width="1" height="1" fill="#bbbbbb"/>
<rect x="594" y="318" width="1" height="1" fill="#bbbbbb"/>
<rect x="594" y="331" width="1" height="1" fill="#bbbbbb"/>
<rect x="594" y="434" width="1" height="1" fill="#bbbbbb"/>
<rect x="597" y="318" width="1" height="1" fill="#bbbbbb"/>
<rect x="597" y="331" width="1" height="1" fill="#bbbbbb"/>
<rect x="597" y="434" width="1" height="1" fill="#bbbbbb"/>
<rect x="600" y="318" width="1" height="1" fill="#bbbbbb"/>
<rect x="600" y="331" width="1" height="1" fill="#bbbbbb"/>
<rect x="600" y="434" width="1" height="1" fill="#bbbbbb"/>
<rect x="603" y="318" width="1" height="1" fill="#bbbbbb"/>
<rect x="603" y="331" width="1" height="1" fill="#bbbbbb"/>
<rect x="603" y="434" width="1" height="1" fill="#bbbbbb"/>
<rect x="606" y="318" width="1" height="1" fill="#bbbbbb"/>
<rect x="606" y="331" width="1" height="1" fill="#bbbbbb"/>
<rect x="606" y="434" width="1" height="1" fill="#bbbbbb"/>
<rect x="609" y="318" width="1" height="1" fill="#bbbbbb"/>
<rect x="609" y="331" width="1" height="1" fill="#bbbbbb"/>
<rect x="609" y="434" width="1" height="1" fill="#bbbbbb"/>
<rect x="612" y="318" width="1" height="1" fill="#bbbbbb"/>
<rect x="612" y="331" width="1" height="1" fill="#bbbbbb"/>
<rect x="612" y="434" width="1" height="1" fill="#bbbbbb"/>
<rect x="615" y="318" width="1" height="1" fill="#bbbbbb"/>
<rect x="615" y="331" width="1" height="1" fill="#bbbbbb"/>
<rect x="615" y="434" width="1" height="1" fill="#bbbbbb"/>
<rect x="618" y="318" width="1" height="1" fill="#bbbbbb"/>
<rect x="618" y="331" width="1" height="1" fill="#bbbbbb"/>
<rect x="618" y="434" width="1" height="1" fill="#bbbbbb"/>
<rect x="621" y="318" width="1" height="1" fill="#bbbbbb"/>
<rect x="621" y="331" width="1" height="1" fill="#bbbbbb"/>
<rect x="621" y="434" width="1" height="1" fill="#bbbbbb"/>
<rect x="624" y="318" width="1" height="1" fill="#bbbbbb"/>
<rect x="624" y="331" width="1" height="1" fill="#bbbbbb"/>
<rect x="624" y="434" width="1" height="1" fill="#bbbbbb"/>
<rect x="627" y="318" width="1" height="1" fill="#bbbbbb"/>
<rect x="627" y="331" width="1" height="1" fill="#bbbbbb"/>
<rect x="627" y="434" width="1" height="1" fill="#bbbbbb"/>
<rect x="48" y="318" width="1" height="2" fill="#aaaaaa"/>
<rect x="48" y="330" width="1" height="2" fill="#aaaaaa"/>
<rect x="48" y="434" width="1" height="2" fill="#aaaaaa"/>
<rect x="114" y="318" width="1" height="2" fill="#aaaaaa"/>
<rect x="114" y="330" width="1" height="2" fill="#aaaaaa"/>
<rect x="114" y="434" width="1" height="2" fill="#aaaaaa"/>
<rect x="174" y="318" width="1" height="2" fill="#aaaaaa"/>
<rect x="174" y="330" width="1" height="2" fill="#aaaaaa"/>
<rect x="174" y="434" width="1" height="2" fill="#aaaaaa"/>
<rect x="243" y="318" width="1" height="2" fill="#aaaaaa"/>
<rect x="243" y="330" width="1" height="2" fill="#aaaaaa"/>
<rect x="243" y="434" width="1" height="2" fill="#aaaaaa"/>
<rect x="306" y="318" width="1" height="2" fill="#aaaaaa"/>
<rect x="306" y="330" width="1" height="2" fill="#aaaaaa"/>
<rect x="306" y="434" width="1" height="2" fill="#aaaaaa"/>
<rect x="369" y="318" width="1" height="2" fill="#aaaaaa"/>
<rect x="369" y="330" width="1" height="2" fill="#aaaaaa"/>
<rect x="369" y="434" width="1" height="2" fill="#aaaaaa"/>
<rect x="432" y="318" width="1" height="2" fill="#aaaaaa"/>
<rect x="432" y="330" width="1" height="2" fill="#aaaaaa"/>
<rect x="432" y="434" width="1" height="2" fill="#aaaaaa"/>
<rect x="495" y="318" width="1" height="2" fill="#aaaaaa"/>
<rect x="495" y="330" width="1" height="2" fill="#aaaaaa"/>
<rect x="495" y="434" width="1" height="2" fill="#aaaaaa"/>
<rect x="555" y="318" width="1" height="2" fill="#aaaaaa"/>
<rect x="555" y="330" width="1" height="2" fill="#aaaaaa"/>
<rect x="555" y="434" width="1" height="2" fill="#aaaaaa"/>
<rect x="615" y="318" width="1" height="2" fill="#aaaaaa"/>
<rect x="615" y="330" width="1" height="2" fill="#aaaaaa"/>
<rect x="615" y="434" width="1" height="2" fill="#aaaaaa"/>
<rect x="634" y="32" width="1" height="1" fill="#bbbbbb"/>
<rect x="634" y="36" width="1" height="1" fill="#bbbbbb"/>
<rect x="634" y="40" width="1" height="1" fill="#bbbbbb"/>
<rect x="634" y="44" width="1" height="1" fill="#bbbbbb"/>
<rect x="634" y="48" width="1" height="1" fill="#bbbbbb"/>
<rect x="634" y="52" width="1" height="1" fill="#bbbbbb"/>
<rect x="634" y="56" width="1" height="1" fill="#bbbbbb"/>
<rect x="634" y="59" width="1" height="1" fill="#bbbbbb"/>
<rect x="634" y="63" width="1" height="1" fill="#bbbbbb"/>
<rect x="634" y="67" width="1" height="1" fill="#bbbbbb"/>
<rect x="634" y="71" width="1" height="1" fill="#bbbbbb"/>
<rect x="634" y="75" width="1" height="1" fill="#bbbbbb"/>
<rect x="634" y="79" width="1" height="1" fill="#bbbbbb"/>
<rect x="634" y="83" width="1" height="1" fill="#bbbbbb"/>
<rect x="634" y="87" width="1" height="1" fill="#bbbbbb"/>
<rect x="634" y="91" width="1" height="1" fill="#bbbbbb"/>
<rect x="634" y="95" width="1" height="1" fill="#bbbbbb"/>
<rect x="634" y="99" width="1" height="1" fill="#bbbbbb"/>
<rect x="634" y="103" width="1" height="1" fill="#bbbbbb"/>
<rect x="634" y="107" width="1" height="1" fill="#bbbbbb"/>
<rect x="634" y="111" width="1" height="1" fill="#bbbbbb"/>
<rect x="634" y="114" width="1" height="1" fill="#bbbbbb"/>
<rect x="634" y="118" width="1" height="1" fill="#bbbbbb"/>
<rect x="634" y="122" width="1" height="1" fill="#bbbbbb"/>
<rect x="634" y="126" width="1" height="1" fill="#bbbbbb"/>
<rect x="634" y="130" width="1" height="1" fill="#bbbbbb"/>
<rect x="634" y="134" width="1" height="1" fill="#bbbbbb"/>
<rect x="634" y="138" width="1" height="1" fill="#bbbbbb"/>
<rect x="634" y="142" width="1" height="1" fill="#bbbbbb"/>
<rect x="634" y="146" width="1" height="1" fill="#bbbbbb"/>
<rect x="634" y="150" width="1" height="1" fill="#bbbbbb"/>
<rect x="634" y="154" width="1" height="1" fill="#bbbbbb"/>
<rect x="634" y="158" width="1" height="1" fill="#bbbbbb"/>
<rect x="634" y="162" width="1" height="1" fill="#bbbbbb"/>
<rect x="634" y="166" width="1" height="1" fill="#bbbbbb"/>
<rect x="634" y="170" width="1" height="1" fill="#bbbbbb"/>
<rect x="634" y="173" width="1" height="1" fill="#bbbbbb"/>
<rect x="634" y="177" width="1" height="1" fill="#bbbbbb"/>
<rect x="634" y="181" width="1" height="1" fill="#bbbbbb"/>
<rect x="634" y="185" width="1" height="1" fill="#bbbbbb"/>
<rect x="634" y="189" width="1" height="1" fill="#bbbbbb"/>
<rect x="634" y="193" width="1" height="1" fill="#bbbbbb"/>
<rect x="634" y="197" width="1" height="1" fill="#bbbbbb"/>
<rect x="634" y="201" width="1" height="1" fill="#bbbbbb"/>
<rect x="634" y="205" width="1" height="1" fill="#bbbbbb"/>
<rect x="634" y="209" width="1" height="1" fill="#bbbbbb"/>
<rect x="634" y="213" width="1" height="1" fill="#bbbbbb"/>
<rect x="634" y="217" width="1" height="1" fill="#bbbbbb"/>
<rect x="634" y="221" width="1" height="1" fill="#bbbbbb"/>
<rect x="634" y="225" width="1" height="1" fill="#bbbbbb"/>
<rect x="634" y="228" width="1" height="1" fill="#bbbbbb"/>
<rect x="634" y="232" width="1" height="1" fill="#bbbbbb"/>
<rect x="634" y="236" width="1" height="1" fill="#bbbbbb"/>
<rect x="634" y="240" width="1" height="1" fill="#bbbbbb"/>
<rect x="634" y="244" width="1" height="1" fill="#bbbbbb"/>
<rect x="634" y="248" width="1" height="1" fill="#bbbbbb"/>
<rect x="634" y="252" width="1" height="1" fill="#bbbbbb"/>
<rect x="634" y="256" width="1" height="1" fill="#bbbbbb"/>
<rect x="634" y="260" width="1" height="1" fill="#bbbbbb"/>
<rect x="634" y="264" width="1" height="1" fill="#bbbbbb"/>
<rect x="634" y="268" width="1" height="1" fill="#bbbbbb"/>
<rect x="634" y="272" width="1" height="1" fill="#bbbbbb"/>
<rect x="634" y="276" width="1" height="1" fill="#bbbbbb"/>
<rect x="634" y="280" width="1" height="1" fill="#bbbbbb"/>
<rect x="634" y="284" width="1" height="1" fill="#bbbbbb"/>
<rect x="634" y="287" width="1" height="1" fill="#bbbbbb"/>
<rect x="634" y="291" width="1" height="1" fill="#bbbbbb"/>
<rect x="634" y="295" width="1" height="1" fill="#bbbbbb"/>
<rect x="634" y="299" width="1" height="1" fill="#bbbbbb"/>
<rect x="634" y="303" width="1" height="1" fill="#bbbbbb"/>
<rect x="634" y="307" width="1" height="1" fill="#bbbbbb"/>
<rect x="634" y="311" width="1" height="1" fill="#bbbbbb"/>
<rect x="634" y="315" width="1" height="1" fill="#bbbbbb"/>
<rect x="634" y="40" width="3" height="1" fill="#aaaaaa"/>
<rect x="634" y="59" width="3" height="1" fill="#aaaaaa"/>
<rect x="634" y="79" width="3" height="1" fill="#aaaaaa"/>
<rect x="634" y="99" width="3" height="1" fill="#aaaaaa"/>
<rect x="634" y="118" width="3" height="1" fill="#aaaaaa"/>
<rect x="634" y="138" width="3" height="1" fill="#aaaaaa"/>
<rect x="634" y="158" width="3" height="1" fill="#aaaaaa"/>
<rect x="634" y="177" width="3" height="1" fill="#aaaaaa"/>
<rect x="634" y="197" width="3" height="1" fill="#aaaaaa"/>
<rect x="634" y="217" width="3" height="1" fill="#aaaaaa"/>
<rect x="634" y="236" width="3" height="1" fill="#aaaaaa"/>
<rect x="634" y="256" width="3" height="1" fill="#aaaaaa"/>
<rect x="634" y="276" width="3" height="1" fill="#aaaaaa"/>
<rect x="634" y="295" width="3" height="1" fill="#aaaaaa"/>
<rect x="634" y="431" width="1" height="1" fill="#bbbbbb"/>
<rect x="634" y="423" width="1" height="1" fill="#bbbbbb"/>
<rect x="634" y="415" width="1" height="1" fill="#bbbbbb"/>
<rect x="634" y="406" width="1" height="1" fill="#bbbbbb"/>
<rect x="634" y="398" width="1" height="1" fill="#bbbbbb"/>
<rect x="634" y="390" width="1" height="1" fill="#bbbbbb"/>
<rect x="634" y="382" width="1" height="1" fill="#bbbbbb"/>
<rect x="634" y="373" width="1" height="1" fill="#bbbbbb"/>
<rect x="634" y="365" width="1" height="1" fill="#bbbbbb"/>
<rect x="634" y="357" width="1" height="1" fill="#bbbbbb"/>
<rect x="634" y="349" width="1" height="1" fill="#bbbbbb"/>
<rect x="634" y="340" width="1" height="1" fill="#bbbbbb"/>
<rect x="634" y="349" width="3" height="1" fill="#aaaaaa"/>
<rect x="634" y="365" width="3" height="1" fill="#aaaaaa"/>
<rect x="634" y="382" width="3" height="1" fill="#aaaaaa"/>
<rect x="634" y="398" width="3" height="1" fill="#aaaaaa"/>
<rect x="634" y="415" width="3" height="1" fill="#aaaaaa"/>
<rect x="17" y="30" width="136" height="11" fill="#fff"/>
<rect x="17" y="333" width="211" height="12" fill="#fff"/>
<rect x="17" y="365" width="4" height="68" fill="#b02a3c"/>
<rect x="18" y="366" width="2" height="67" fill="#d9808c"/>
<rect x="20" y="384" width="4" height="49" fill="#505050"/>
<rect x="21" y="385" width="2" height="48" fill="#888888"/>
<rect x="23" y="380" width="4" height="53" fill="#b02a3c"/>
<rect x="24" y="381" width="2" height="52" fill="#d9808c"/>
<rect x="26" y="366" width="4" height="67" fill="#505050"/>
<rect x="27" y="367" width="2" height="66" fill="#888888"/>
<rect x="29" y="382" width="4" height="51" fill="#b02a3c"/>
<rect x="30" y="383" width="2" height="50" fill="#d9808c"/>
<rect x="32" y="375" width="4" height="58" fill="#505050"/>
<rect x="33" y="376" width="2" height="57" fill="#888888"/>
<rect x="35" y="373" width="4" height="60" fill="#505050"/>
<rect x="36" y="374" width="2" height="59" fill="#888888"/>
<rect x="38" y="376" width="4" height="57" fill="#b02a3c"/>
<rect x="39" y="377" width="2" height="56" fill="#d9808c"/>
<rect x="41" y="396" width="4" height="37" fill="#505050"/>
<rect x="42" y="397" width="2" height="36" fill="#888888"/>
<rect x="44" y="379" width="4" height="54" fill="#505050"/>
<rect x="45" y="380" width="2" height="53" fill="#888888"/>
<rect x="47" y="369" width="4" height="64" fill="#b02a3c"/>
<rect x="48" y="370" width="2" height="63" fill="#d9808c"/>
<rect x="50" y="367" width="4" height="66" fill="#505050"/>
<rect x="51" y="368" width="2" height="65" fill="#888888"/>
<rect x="53" y="373" width="4" height="60" fill="#b02a3c"/>
<rect x="54" y="374" width="2" height="59" fill="#d9808c"/>
<rect x="56" y="384" width="4" height="49" fill="#b02a3c"/>
<rect x="57" y="385" width="2" height="48" fill="#d9808c"/>
<rect x="59" y="363" width="4" height="70" fill="#505050"/>
<rect x="60" y="364" width="2" height="69" fill="#888888"/>
<rect x="62" y="351" width="4" height="82" fill="#505050"/>
<rect x="63" y="352" width="2" height="81" fill="#888888"/>
<rect x="65" y="374" width="4" height="59" fill="#505050"/>
<rect x="66" y="375" width="2" height="58" fill="#888888"/>
<rect x="68" y="369" width="4" height="64" fill="#b02a3c"/>
<rect x="69" y="370" width="2" height="63" fill="#d9808c"/>
<rect x="71" y="368" width="4" height="65" fill="#b02a3c"/>
<rect x="72" y="369" width="2" height="64" fill="#d9808c"/>
<rect x="74" y="374" width="4" height="59" fill="#505050"/>
<rect x="75" y="375" width="2" height="58" fill="#888888"/>
<rect x="77" y="347" width="4" height="86" fill="#b02a3c"/>
<rect x="78" y="348" width="2" height="85" fill="#d9808c"/>
<rect x="80" y="376" width="4" height="57" fill="#505050"/>
<rect x="81" y="377" width="2" height="56" fill="#888888"/>
<rect x="83" y="391" width="4" height="42" fill="#b02a3c"/>
<rect x="84" y="392" width="2" height="41" fill="#d9808c"/>
<rect x="86" y="386" width="4" height="47" fill="#505050"/>
<rect x="87" y="387" width="2" height="46" fill="#888888"/>
<rect x="89" y="378" width="4" height="55" fill="#505050"/>
<rect x="90" y="379" width="2" height="54" fill="#888888"/>
<rect x="92" y="382" width="4" height="51" fill="#505050"/>
<rect x="93" y="383" width="2" height="50" fill="#888888"/>
<rect x="95" y="351" width="4" height="82" fill="#b02a3c"/>
<rect x="96" y="352" width="2" height="81" fill="#d9808c"/>
<rect x="98" y="376" width="4" height="57" fill="#505050"/>
<rect x="99" y="377" width="2" height="56" fill="#888888"/>
<rect x="101" y="385" width="4" height="48" fill="#b02a3c"/>
<rect x="102" y="386" width="2" height="47" fill="#d9808c"/>
<rect x="104" y="385" width="4" height="48" fill="#505050"/>
<rect x="105" y="386" width="2" height="47" fill="#888888"/>
<rect x="107" y="374" width="4" height="59" fill="#505050"/>
<rect x="108" y="375" width="2" height="58" fill="#888888"/>
<rect x="110" y="386" width="4" height="47" fill="#505050"/>
<rect x="111" y="387" width="2" height="46" fill="#888888"/>
<rect x="113" y="387" width="4" height="46" fill="#b02a3c"/>
<rect x="114" y="388" width="2" height="45" fill="#d9808c"/>
<rect x="116" y="386" width="4" height="47" fill="#505050"/>
<rect x="117" y="387" width="2" height="46" fill="#888888"/>
<rect x="119" y="384" width="4" height="49" fill="#b02a3c"/>
<rect x="120" y="385" width="2" height="48" fill="#d9808c"/>
<rect x="122" y="375" width="4" height="58" fill="#505050"/>
<rect x="123" y="376" width="2" height="57" fill="#888888"/>
<rect x="125" y="374" width="4" height="59" fill="#b02a3c"/>
<rect x="126" y="375" width="2" height="58" fill="#d9808c"/>
<rect x="128" y="380" width="4" height="53" fill="#b02a3c"/>
<rect x="129" y="381" width="2" height="52" fill="#d9808c"/>
<rect x="131" y="375" width="4" height="58" fill="#505050"/>
<rect x="132" y="376" width="2" height="57" fill="#888888"/>
<rect x="134" y="373" width="4" height="60" fill="#505050"/>
<rect x="135" y="374" width="2" height="59" fill="#888888"/>
<rect x="137" y="365" width="4" height="68" fill="#b02a3c"/>
<rect x="138" y="366" width="2" height="67" fill="#d9808c"/>
<rect x="140" y="388" width="4" height="45" fill="#505050"/>
<rect x="141" y="389" width="2" height="44" fill="#888888"/>
<rect x="143" y="398" width="4" height="35" fill="#b02a3c"/>
<rect x="144" y="399" width="2" height="34" fill="#d9808c"/>
<rect x="146" y="382" width="4" height="51" fill="#505050"/>
<rect x="147" y="383" width="2" height="50" fill="#888888"/>
<rect x="149" y="383" width="4" height="50" fill="#505050"/>
<rect x="150" y="384" width="2" height="49" fill="#888888"/>
<rect x="152" y="385" width="4" height="48" fill="#505050"/>
<rect x="153" y="386" width="2" height="47" fill="#888888"/>
<rect x="155" y="397" width="4" height="36" fill="#505050"/>
<rect x="156" y="398" width="2" height="35" fill="#888888"/>
<rect x="158" y="400" width="4" height="33" fill="#b02a3c"/>
<rect x="159" y="401" width="2" height="32" fill="#d9808c"/>
<rect x="161" y="379" width="4" height="54" fill="#505050"/>
<rect x="162" y="380" width="2" height="53" fill="#888888"/>
<rect x="164" y="381" width="4" height="52" fill="#b02a3c"/>
<rect x="165" y="382" width="2" height="51" fill="#d9808c"/>
<rect x="167" y="395" width="4" height="38" fill="#b02a3c"/>
<rect x="168" y="396" width="2" height="37" fill="#d9808c"/>
<rect x="170" y="388" width="4" height="45" fill="#b02a3c"/>
<rect x="171" y="389" width="2" height="44" fill="#d9808c"/>
<rect x="173" y="368" width="4" height="65" fill="#b02a3c"/>
<rect x="174" y="369" width="2" height="64" fill="#d9808c"/>
<rect x="176" y="380" width="4" height="53" fill="#b02a3c"/>
<rect x="177" y="381" width="2" height="52" fill="#d9808c"/>
<rect x="179" y="376" width="4" height="57" fill="#b02a3c"/>
<rect x="180" y="377" width="2" height="56" fill="#d9808c"/>
<rect x="182" y="347" width="4" height="86" fill="#b02a3c"/>
<rect x="183" y="348" width="2" height="85" fill="#d9808c"/>
<rect x="185" y="354" width="4" height="79" fill="#505050"/>
<rect x="186" y="355" width="2" height="78" fill="#888888"/>
<rect x="188" y="352" width="4" height="81" fill="#b02a3c"/>
<rect x="189" y="353" width="2" height="80" fill="#d9808c"/>
<rect x="191" y="344" width="4" height="89" fill="#505050"/>
<rect x="192" y="345" width="2" height="88" fill="#888888"/>
<rect x="194" y="352" width="4" height="81" fill="#b02a3c"/>
<rect x="195" y="353" width="2" height="80" fill="#d9808c"/>
<rect x="197" y="357" width="4" height="76" fill="#505050"/>
<rect x="198" y="358" width="2" height="75" fill="#888888"/>
<rect x="200" y="378" width="4" height="55" fill="#b02a3c"/>
<rect x="201" y="379" width="2" height="54" fill="#d9808c"/>
<rect x="203" y="388" width="4" height="45" fill="#505050"/>
<rect x="204" y="389" width="2" height="44" fill="#888888"/>
<rect x="206" y="374" width="4" height="59" fill="#b02a3c"/>
<rect x="207" y="375" width="2" height="58" fill="#d9808c"/>
<rect x="209" y="380" width="4" height="53" fill="#505050"/>
<rect x="210" y="381" width="2" height="52" fill="#888888"/>
<rect x="212" y="378" width="4" height="55" fill="#b02a3c"/>
<rect x="213" y="379" width="2" height="54" fill="#d9808c"/>
<rect x="215" y="369" width="4" height="64" fill="#505050"/>
<rect x="216" y="370" width="2" height="63" fill="#888888"/>
<rect x="218" y="371" width="4" height="62" fill="#505050"/>
<rect x="219" y="372" width="2" height="61" fill="#888888"/>
<rect x="221" y="376" width="4" height="57" fill="#505050"/>
<rect x="222" y="377" width="2" height="56" fill="#888888"/>
<rect x="224" y="385" width="4" height="48" fill="#b02a3c"/>
<rect x="225" y="386" width="2" height="47" fill="#d9808c"/>
<rect x="227" y="374" width="4" height="59" fill="#b02a3c"/>
<rect x="228" y="375" width="2" height="58" fill="#d9808c"/>
<rect x="230" y="387" width="4" height="46" fill="#505050"/>
<rect x="231" y="388" width="2" height="45" fill="#888888"/>
<rect x="233" y="431" width="4" height="2" fill="#505050"/>
<rect x="234" y="432" width="2" height="1" fill="#888888"/>
<rect x="236" y="382" width="4" height="51" fill="#505050"/>
<rect x="237" y="383" width="2" height="50" fill="#888888"/>
<rect x="239" y="383" width="4" height="50" fill="#b02a3c"/>
<rect x="240" y="384" width="2" height="49" fill="#d9808c"/>
<rect x="242" y="388" width="4" height="45" fill="#505050"/>
<rect x="243" y="389" width="2" height="44" fill="#888888"/>
<rect x="245" y="383" width="4" height="50" fill="#b02a3c"/>
<rect x="246" y="384" width="2" height="49" fill="#d9808c"/>
<rect x="248" y="382" width="4" height="51" fill="#b02a3c"/>
<rect x="249" y="383" width="2" height="50" fill="#d9808c"/>
<rect x="251" y="383" width="4" height="50" fill="#505050"/>
<rect x="252" y="384" width="2" height="49" fill="#888888"/>
<rect x="254" y="381" width="4" height="52" fill="#b02a3c"/>
<rect x="255" y="382" width="2" height="51" fill="#d9808c"/>
<rect x="257" y="379" width="4" height="54" fill="#b02a3c"/>
<rect x="258" y="380" width="2" height="53" fill="#d9808c"/>
<rect x="260" y="378" width="4" height="55" fill="#505050"/>
<rect x="261" y="379" width="2" height="54" fill="#888888"/>
<rect x="263" y="377" width="4" height="56" fill="#505050"/>
<rect x="264" y="378" width="2" height="55" fill="#888888"/>
<rect x="266" y="383" width="4" height="50" fill="#b02a3c"/>
<rect x="267" y="384" width="2" height="49" fill="#d9808c"/>
<rect x="269" y="387" width="4" height="46" fill="#505050"/>
<rect x="270" y="388" width="2" height="45" fill="#888888"/>
<rect x="272" y="399" width="4" height="34" fill="#b02a3c"/>
<rect x="273" y="400" width="2" height="33" fill="#d9808c"/>
<rect x="275" y="386" width="4" height="47" fill="#b02a3c"/>
<rect x="276" y="387" width="2" height="46" fill="#d9808c"/>
<rect x="278" y="389" width="4" height="44" fill="#505050"/>
<rect x="279" y="390" width="2" height="43" fill="#888888"/>
<rect x="281" y="384" width="4" height="49" fill="#b02a3c"/>
<rect x="282" y="385" width="2" height="48" fill="#d9808c"/>
<rect x="284" y="358" width="4" height="75" fill="#b02a3c"/>
<rect x="285" y="359" width="2" height="74" fill="#d9808c"/>
<rect x="287" y="365" width="4" height="68" fill="#b02a3c"/>
<rect x="288" y="366" width="2" height="67" fill="#d9808c"/>
<rect x="290" y="380" width="4" height="53" fill="#505050"/>
<rect x="291" y="381" width="2" height="52" fill="#888888"/>
<rect x="293" y="382" width="4" height="51" fill="#505050"/>
<rect x="294" y="383" width="2" height="50" fill="#888888"/>
<rect x="296" y="387" width="4" height="46" fill="#b02a3c"/>
<rect x="297" y="388" width="2" height="45" fill="#d9808c"/>
<rect x="299" y="377" width="4" height="56" fill="#505050"/>
<rect x="300" y="378" width="2" height="55" fill="#888888"/>
<rect x="302" y="376" width="4" height="57" fill="#b02a3c"/>
<rect x="303" y="377" width="2" height="56" fill="#d9808c"/>
<rect x="305" y="369" width="4" height="64" fill="#b02a3c"/>
<rect x="306" y="370" width="2" height="63" fill="#d9808c"/>
<rect x="308" y="431" width="4" height="2" fill="#505050"/>
<rect x="309" y="432" width="2" height="1" fill="#888888"/>
<rect x="311" y="379" width="4" height="54" fill="#505050"/>
<rect x="312" y="380" width="2" height="53" fill="#888888"/>
<rect x="314" y="371" width="4" height="62" fill="#505050"/>
<rect x="315" y="372" width="2" height="61" fill="#888888"/>
<rect x="317" y="375" width="4" height="58" fill="#505050"/>
<rect x="318" y="376" width="2" height="57" fill="#888888"/>
<rect x="320" y="393" width="4" height="40" fill="#505050"/>
<rect x="321" y="394" width="2" height="39" fill="#888888"/>
<rect x="323" y="379" width="4" height="54" fill="#b02a3c"/>
<rect x="324" y="380" width="2" height="53" fill="#d9808c"/>
<rect x="326" y="389" width="4" height="44" fill="#b02a3c"/>
<rect x="327" y="390" width="2" height="43" fill="#d9808c"/>
<rect x="329" y="377" width="4" height="56" fill="#b02a3c"/>
<rect x="330" y="378" width="2" height="55" fill="#d9808c"/>
<rect x="332" y="390" width="4" height="43" fill="#505050"/>
<rect x="333" y="391" width="2" height="42" fill="#888888"/>
<rect x="335" y="398" width="4" height="35" fill="#b02a3c"/>
<rect x="336" y="399" width="2" height="34" fill="#d9808c"/>
<rect x="338" y="392" width="4" height="41" fill="#505050"/>
<rect x="339" y="393" width="2" height="40" fill="#888888"/>
<rect x="341" y="376" width="4" height="57" fill="#b02a3c"/>
<rect x="342" y="377" width="2" height="56" fill="#d9808c"/>
<rect x="344" y="370" width="4" height="63" fill="#505050"/>
<rect x="345" y="371" width="2" height="62" fill="#888888"/>
<rect x="347" y="386" width="4" height="47" fill="#505050"/>
<rect x="348" y="387" width="2" height="46" fill="#888888"/>
<rect x="350" y="355" width="4" height="78" fill="#505050"/>
<rect x="351" y="356" width="2" height="77" fill="#888888"/>
<rect x="353" y="355" width="4" height="78" fill="#505050"/>
<rect x="354" y="356" width="2" height="77" fill="#888888"/>
<rect x="356" y="367" width="4" height="66" fill="#b02a3c"/>
<rect x="357" y="368" width="2" height="65" fill="#d9808c"/>
<rect x="359" y="381" width="4" height="52" fill="#505050"/>
<rect x="360" y="382" width="2" height="51" fill="#888888"/>
<rect x="362" y="389" width="4" height="44" fill="#b02a3c"/>
<rect x="363" y="390" width="2" height="43" fill="#d9808c"/>
<rect x="365" y="398" width="4" height="35" fill="#b02a3c"/>
<rect x="366" y="399" width="2" height="34" fill="#d9808c"/>
<rect x="368" y="377" width="4" height="56" fill="#b02a3c"/>
<rect x="369" y="378" width="2" height="55" fill="#d9808c"/>
<rect x="371" y="390" width="4" height="43" fill="#505050"/>
<rect x="372" y="391" width="2" height="42" fill="#888888"/>
<rect x="374" y="384" width="4" height="49" fill="#505050"/>
<rect x="375" y="385" width="2" height="48" fill="#888888"/>
<rect x="377" y="387" width="4" height="46" fill="#505050"/>
<rect x="378" y="388" width="2" height="45" fill="#888888"/>
<rect x="380" y="385" width="4" height="48" fill="#505050"/>
<rect x="381" y="386" width="2" height="47" fill="#888888"/>
<rect x="383" y="380" width="4" height="53" fill="#505050"/>
<rect x="384" y="381" width="2" height="52" fill="#888888"/>
<rect x="386" y="364" width="4" height="69" fill="#b02a3c"/>
<rect x="387" y="365" width="2" height="68" fill="#d9808c"/>
<rect x="389" y="379" width="4" height="54" fill="#505050"/>
<rect x="390" y="380" width="2" height="53" fill="#888888"/>
<rect x="392" y="392" width="4" height="41" fill="#505050"/>
<rect x="393" y="393" width="2" height="40" fill="#888888"/>
<rect x="395" y="373" width="4" height="60" fill="#b02a3c"/>
<rect x="396" y="374" width="2" height="59" fill="#d9808c"/>
<rect x="398" y="386" width="4" height="47" fill="#505050"/>
<rect x="399" y="387" width="2" height="46" fill="#888888"/>
<rect x="401" y="372" width="4" height="61" fill="#505050"/>
<rect x="402" y="373" width="2" height="60" fill="#888888"/>
<rect x="404" y="365" width="4" height="68" fill="#b02a3c"/>
<rect x="405" y="366" width="2" height="67" fill="#d9808c"/>
<rect x="407" y="377" width="4" height="56" fill="#b02a3c"/>
<rect x="408" y="378" width="2" height="55" fill="#d9808c"/>
<rect x="410" y="388" width="4" height="45" fill="#b02a3c"/>
<rect x="411" y="389" width="2" height="44" fill="#d9808c"/>
<rect x="413" y="381" width="4" height="52" fill="#505050"/>
<rect x="414" y="382" width="2" height="51" fill="#888888"/>
<rect x="416" y="387" width="4" height="46" fill="#b02a3c"/>
<rect x="417" y="388" width="2" height="45" fill="#d9808c"/>
<rect x="419" y="403" width="4" height="30" fill="#505050"/>
<rect x="420" y="404" width="2" height="29" fill="#888888"/>
<rect x="422" y="382" width="4" height="51" fill="#505050"/>
<rect x="423" y="383" width="2" height="50" fill="#888888"/>
<rect x="425" y="383" width="4" height="50" fill="#505050"/>
<rect x="426" y="384" width="2" height="49" fill="#888888"/>
<rect x="428" y="385" width="4" height="48" fill="#505050"/>
<rect x="429" y="386" width="2" height="47" fill="#888888"/>
<rect x="431" y="389" width="4" height="44" fill="#b02a3c"/>
<rect x="432" y="390" width="2" height="43" fill="#d9808c"/>
<rect x="434" y="393" width="4" height="40" fill="#505050"/>
<rect x="435" y="394" width="2" height="39" fill="#888888"/>
<rect x="437" y="395" width="4" height="38" fill="#b02a3c"/>
<rect x="438" y="396" width="2" height="37" fill="#d9808c"/>
<rect x="440" y="398" width="4" height="35" fill="#505050"/>
<rect x="441" y="399" width="2" height="34" fill="#888888"/>
<rect x="443" y="382" width="4" height="51" fill="#b02a3c"/>
<rect x="444" y="383" width="2" height="50" fill="#d9808c"/>
<rect x="446" y="380" width="4" height="53" fill="#b02a3c"/>
<rect x="447" y="381" width="2" height="52" fill="#d9808c"/>
<rect x="449" y="384" width="4" height="49" fill="#505050"/>
<rect x="450" y="385" width="2" height="48" fill="#888888"/>
<rect x="452" y="391" width="4" height="42" fill="#b02a3c"/>
<rect x="453" y="392" width="2" height="41" fill="#d9808c"/>
<rect x="455" y="375" width="4" height="58" fill="#505050"/>
<rect x="456" y="376" width="2" height="57" fill="#888888"/>
<rect x="458" y="375" width="4" height="58" fill="#b02a3c"/>
<rect x="459" y="376" width="2" height="57" fill="#d9808c"/>
<rect x="461" y="391" width="4" height="42" fill="#b02a3c"/>
<rect x="462" y="392" width="2" height="41" fill="#d9808c"/>
<rect x="464" y="400" width="4" height="33" fill="#505050"/>
<rect x="465" y="401" width="2" height="32" fill="#888888"/>
<rect x="467" y="397" width="4" height="36" fill="#505050"/>
<rect x="468" y="398" width="2" height="35" fill="#888888"/>
<rect x="470" y="393" width="4" height="40" fill="#505050"/>
<rect x="471" y="394" width="2" height="39" fill="#888888"/>
<rect x="473" y="397" width="4" height="36" fill="#505050"/>
<rect x="474" y="398" width="2" height="35" fill="#888888"/>
<rect x="476" y="408" width="4" height="25" fill="#505050"/>
<rect x="477" y="409" width="2" height="24" fill="#888888"/>
<rect x="479" y="418" width="4" height="15" fill="#505050"/>
<rect x="480" y="419" width="2" height="14" fill="#888888"/>
<rect x="482" y="413" width="4" height="20" fill="#505050"/>
<rect x="483" y="414" width="2" height="19" fill="#888888"/>
<rect x="485" y="406" width="4" height="27" fill="#b02a3c"/>
<rect x="486" y="407" width="2" height="26" fill="#d9808c"/>
<rect x="488" y="408" width="4" height="25" fill="#505050"/>
<rect x="489" y="409" width="2" height="24" fill="#888888"/>
<rect x="491" y="410" width="4" height="23" fill="#b02a3c"/>
<rect x="492" y="411" width="2" height="22" fill="#d9808c"/>
<rect x="494" y="389" width="4" height="44" fill="#505050"/>
<rect x="495" y="390" width="2" height="43" fill="#888888"/>
<rect x="497" y="389" width="4" height="44" fill="#505050"/>
<rect x="498" y="390" width="2" height="43" fill="#888888"/>
<rect x="500" y="385" width="4" height="48" fill="#b02a3c"/>
<rect x="501" y="386" width="2" height="47" fill="#d9808c"/>
<rect x="503" y="387" width="4" height="46" fill="#505050"/>
<rect x="504" y="388" width="2" height="45" fill="#888888"/>
<rect x="506" y="384" width="4" height="49" fill="#b02a3c"/>
<rect x="507" y="385" width="2" height="48" fill="#d9808c"/>
<rect x="509" y="387" width="4" height="46" fill="#505050"/>
<rect x="510" y="388" width="2" height="45" fill="#888888"/>
<rect x="512" y="385" width="4" height="48" fill="#b02a3c"/>
<rect x="513" y="386" width="2" height="47" fill="#d9808c"/>
<rect x="515" y="375" width="4" height="58" fill="#b02a3c"/>
<rect x="516" y="376" width="2" height="57" fill="#d9808c"/>
<rect x="518" y="383" width="4" height="50" fill="#b02a3c"/>
<rect x="519" y="384" width="2" height="49" fill="#d9808c"/>
<rect x="521" y="380" width="4" height="53" fill="#505050"/>
<rect x="522" y="381" width="2" height="52" fill="#888888"/>
<rect x="524" y="390" width="4" height="43" fill="#505050"/>
<rect x="525" y="391" width="2" height="42" fill="#888888"/>
<rect x="527" y="387" width="4" height="46" fill="#b02a3c"/>
<rect x="528" y="388" width="2" height="45" fill="#d9808c"/>
<rect x="530" y="384" width="4" height="49" fill="#b02a3c"/>
<rect x="531" y="385" width="2" height="48" fill="#d9808c"/>
<rect x="533" y="395" width="4" height="38" fill="#505050"/>
<rect x="534" y="396" width="2" height="37" fill="#888888"/>
<rect x="536" y="394" width="4" height="39" fill="#b02a3c"/>
<rect x="537" y="395" width="2" height="38" fill="#d9808c"/>
<rect x="539" y="381" width="4" height="52" fill="#505050"/>
<rect x="540" y="382" width="2" height="51" fill="#888888"/>
<rect x="542" y="390" width="4" height="43" fill="#505050"/>
<rect x="543" y="391" width="2" height="42" fill="#888888"/>
<rect x="545" y="392" width="4" height="41" fill="#b02a3c"/>
<rect x="546" y="393" width="2" height="40" fill="#d9808c"/>
<rect x="548" y="399" width="4" height="34" fill="#b02a3c"/>
<rect x="549" y="400" width="2" height="33" fill="#d9808c"/>
<rect x="551" y="373" width="4" height="60" fill="#b02a3c"/>
<rect x="552" y="374" width="2" height="59" fill="#d9808c"/>
<rect x="554" y="386" width="4" height="47" fill="#b02a3c"/>
<rect x="555" y="387" width="2" height="46" fill="#d9808c"/>
<rect x="557" y="380" width="4" height="53" fill="#b02a3c"/>
<rect x="558" y="381" width="2" height="52" fill="#d9808c"/>
<rect x="560" y="382" width="4" height="51" fill="#505050"/>
<rect x="561" y="383" width="2" height="50" fill="#888888"/>
<rect x="563" y="392" width="4" height="41" fill="#b02a3c"/>
<rect x="564" y="393" width="2" height="40" fill="#d9808c"/>
<rect x="566" y="368" width="4" height="65" fill="#505050"/>
<rect x="567" y="369" width="2" height="64" fill="#888888"/>
<rect x="569" y="375" width="4" height="58" fill="#505050"/>
<rect x="570" y="376" width="2" height="57" fill="#888888"/>
<rect x="572" y="387" width="4" height="46" fill="#505050"/>
<rect x="573" y="388" width="2" height="45" fill="#888888"/>
<rect x="575" y="387" width="4" height="46" fill="#b02a3c"/>
<rect x="576" y="388" width="2" height="45" fill="#d9808c"/>
<rect x="578" y="392" width="4" height="41" fill="#505050"/>
<rect x="579" y="393" width="2" height="40" fill="#888888"/>
<rect x="581" y="384" width="4" height="49" fill="#505050"/>
<rect x="582" y="385" width="2" height="48" fill="#888888"/>
<rect x="584" y="389" width="4" height="44" fill="#505050"/>
<rect x="585" y="390" width="2" height="43" fill="#888888"/>
<rect x="587" y="401" width="4" height="32" fill="#505050"/>
<rect x="588" y="402" width="2" height="31" fill="#888888"/>
<rect x="590" y="394" width="4" height="39" fill="#505050"/>
<rect x="591" y="395" width="2" height="38" fill="#888888"/>
<rect x="593" y="381" width="4" height="52" fill="#505050"/>
<rect x="594" y="382" width="2" height="51" fill="#888888"/>
<rect x="596" y="394" width="4" height="39" fill="#505050"/>
<rect x="597" y="395" width="2" height="38" fill="#888888"/>
<rect x="599" y="380" width="4" height="53" fill="#505050"/>
<rect x="600" y="381" width="2" height="52" fill="#888888"/>
<rect x="602" y="390" width="4" height="43" fill="#505050"/>
<rect x="603" y="391" width="2" height="42" fill="#888888"/>
<rect x="605" y="387" width="4" height="46" fill="#b02a3c"/>
<rect x="606" y="388" width="2" height="45" fill="#d9808c"/>
<rect x="608" y="387" width="4" height="46" fill="#b02a3c"/>
<rect x="609" y="388" width="2" height="45" fill="#d9808c"/>
<rect x="611" y="376" width="4" height="57" fill="#505050"/>
<rect x="612" y="377" width="2" height="56" fill="#888888"/>
<rect x="614" y="370" width="4" height="63" fill="#505050"/>
<rect x="615" y="371" width="2" height="62" fill="#888888"/>
<rect x="617" y="385" width="4" height="48" fill="#b02a3c"/>
<rect x="618" y="386" width="2" height="47" fill="#d9808c"/>
<rect x="620" y="395" width="4" height="38" fill="#505050"/>
<rect x="621" y="396" width="2" height="37" fill="#888888"/>
<rect x="623" y="380" width="4" height="53" fill="#b02a3c"/>
<rect x="624" y="381" width="2" height="52" fill="#d9808c"/>
<rect x="626" y="381" width="4" height="52" fill="#505050"/>
<rect x="627" y="382" width="2" height="51" fill="#888888"/>
</g>
<polyline points="16.5,373 40,373.2 79,372.2 95,373.2 120.7,375 142,375.5 172,379.3 182,378 195.3,373.8 215.3,374.3 228.7,375 231.5,373.8 235,377.2 243.3,378.3 263.3,378 276.7,380 286.7,379.3 306.7,379.7 323.3,380.5 338,382.2 358,379.3 371.3,380.5 388,380.5 404.7,380 421.3,381.3 438,382.7 451,383.2 456,383.3 459.3,382.2 474.3,384.3 489.3,389.3 512.7,389.3 516,388.3 530,388.3 563.3,387.7 610,387.5 616.7,386.3 627.5,386.7" fill="none" stroke="#ff0000" stroke-width="1.1" stroke-linejoin="round"/>
<g shape-rendering="crispEdges">
<rect x="18" y="136" width="1" height="23" fill="#cc0033"/>
<rect x="17" y="142" width="3" height="2" fill="#cc0033"/>
<rect x="21" y="107" width="1" height="28" fill="#000000"/>
<rect x="20" y="114" width="3" height="20" fill="#000000"/>
<rect x="21" y="115" width="1" height="18" fill="#ffffff"/>
<rect x="24" y="109" width="1" height="21" fill="#cc0033"/>
<rect x="23" y="117" width="3" height="11" fill="#cc0033"/>
<rect x="27" y="115" width="1" height="33" fill="#000000"/>
<rect x="26" y="118" width="3" height="8" fill="#000000"/>
<rect x="27" y="119" width="1" height="6" fill="#ffffff"/>
<rect x="30" y="119" width="1" height="29" fill="#cc0033"/>
<rect x="29" y="121" width="3" height="17" fill="#cc0033"/>
<rect x="33" y="118" width="1" height="28" fill="#000000"/>
<rect x="32" y="122" width="3" height="16" fill="#000000"/>
<rect x="33" y="123" width="1" height="14" fill="#ffffff"/>
<rect x="36" y="106" width="1" height="28" fill="#000000"/>
<rect x="35" y="108" width="3" height="16" fill="#000000"/>
<rect x="36" y="109" width="1" height="14" fill="#ffffff"/>
<rect x="39" y="104" width="1" height="18" fill="#cc0033"/>
<rect x="38" y="109" width="3" height="9" fill="#cc0033"/>
<rect x="42" y="109" width="1" height="9" fill="#000000"/>
<rect x="41" y="114" width="3" height="4" fill="#000000"/>
<rect x="42" y="115" width="1" height="2" fill="#ffffff"/>
<rect x="45" y="92" width="1" height="30" fill="#000000"/>
<rect x="44" y="97" width="3" height="17" fill="#000000"/>
<rect x="45" y="98" width="1" height="15" fill="#ffffff"/>
<rect x="48" y="92" width="1" height="29" fill="#cc0033"/>
<rect x="47" y="97" width="3" height="19" fill="#cc0033"/>
<rect x="51" y="111" width="1" height="21" fill="#000000"/>
<rect x="50" y="116" width="3" height="5" fill="#000000"/>
<rect x="51" y="117" width="1" height="3" fill="#ffffff"/>
<rect x="54" y="112" width="1" height="22" fill="#cc0033"/>
<rect x="53" y="112" width="3" height="6" fill="#cc0033"/>
<rect x="57" y="113" width="1" height="18" fill="#cc0033"/>
<rect x="56" y="115" width="3" height="12" fill="#cc0033"/>
<rect x="60" y="120" width="1" height="16" fill="#000000"/>
<rect x="59" y="126" width="3" height="3" fill="#000000"/>
<rect x="60" y="127" width="1" height="1" fill="#ffffff"/>
<rect x="63" y="104" width="1" height="30" fill="#000000"/>
<rect x="62" y="114" width="3" height="8" fill="#000000"/>
<rect x="63" y="115" width="1" height="6" fill="#ffffff"/>
<rect x="66" y="99" width="1" height="15" fill="#000000"/>
<rect x="65" y="104" width="3" height="9" fill="#000000"/>
<rect x="66" y="105" width="1" height="7" fill="#ffffff"/>
<rect x="69" y="102" width="1" height="28" fill="#cc0033"/>
<rect x="68" y="104" width="3" height="21" fill="#cc0033"/>
<rect x="72" y="124" width="1" height="26" fill="#cc0033"/>
<rect x="71" y="128" width="3" height="13" fill="#cc0033"/>
<rect x="75" y="121" width="1" height="25" fill="#000000"/>
<rect x="74" y="124" width="3" height="18" fill="#000000"/>
<rect x="75" y="125" width="1" height="16" fill="#ffffff"/>
<rect x="78" y="119" width="1" height="48" fill="#cc0033"/>
<rect x="77" y="121" width="3" height="39" fill="#cc0033"/>
<rect x="81" y="152" width="1" height="11" fill="#000000"/>
<rect x="80" y="156" width="3" height="3" fill="#000000"/>
<rect x="84" y="155" width="1" height="29" fill="#cc0033"/>
<rect x="83" y="157" width="3" height="17" fill="#cc0033"/>
<rect x="87" y="167" width="1" height="19" fill="#000000"/>
<rect x="86" y="169" width="3" height="4" fill="#000000"/>
<rect x="87" y="170" width="1" height="2" fill="#ffffff"/>
<rect x="90" y="157" width="1" height="17" fill="#000000"/>
<rect x="89" y="164" width="3" height="4" fill="#000000"/>
<rect x="90" y="165" width="1" height="2" fill="#ffffff"/>
<rect x="93" y="152" width="1" height="20" fill="#000000"/>
<rect x="92" y="155" width="3" height="13" fill="#000000"/>
<rect x="93" y="156" width="1" height="11" fill="#ffffff"/>
<rect x="96" y="162" width="1" height="38" fill="#cc0033"/>
<rect x="95" y="163" width="3" height="27" fill="#cc0033"/>
<rect x="99" y="179" width="1" height="21" fill="#000000"/>
<rect x="98" y="179" width="3" height="10" fill="#000000"/>
<rect x="102" y="187" width="1" height="13" fill="#cc0033"/>
<rect x="101" y="188" width="3" height="5" fill="#cc0033"/>
<rect x="105" y="171" width="1" height="23" fill="#000000"/>
<rect x="104" y="174" width="3" height="19" fill="#000000"/>
<rect x="105" y="175" width="1" height="17" fill="#ffffff"/>
<rect x="108" y="151" width="1" height="26" fill="#000000"/>
<rect x="107" y="160" width="3" height="12" fill="#000000"/>
<rect x="108" y="161" width="1" height="10" fill="#ffffff"/>
<rect x="111" y="151" width="1" height="16" fill="#000000"/>
<rect x="110" y="154" width="3" height="4" fill="#000000"/>
<rect x="111" y="155" width="1" height="2" fill="#ffffff"/>
<rect x="114" y="155" width="1" height="16" fill="#cc0033"/>
<rect x="113" y="157" width="3" height="2" fill="#cc0033"/>
<rect x="117" y="138" width="1" height="26" fill="#000000"/>
<rect x="116" y="143" width="3" height="16" fill="#000000"/>
<rect x="117" y="144" width="1" height="14" fill="#ffffff"/>
<rect x="120" y="136" width="1" height="16" fill="#cc0033"/>
<rect x="119" y="142" width="3" height="4" fill="#cc0033"/>
<rect x="123" y="123" width="1" height="19" fill="#000000"/>
<rect x="122" y="129" width="3" height="13" fill="#000000"/>
<rect x="123" y="130" width="1" height="11" fill="#ffffff"/>
<rect x="126" y="125" width="1" height="29" fill="#cc0033"/>
<rect x="125" y="128" width="3" height="21" fill="#cc0033"/>
<rect x="129" y="144" width="1" height="22" fill="#cc0033"/>
<rect x="128" y="149" width="3" height="8" fill="#cc0033"/>
<rect x="132" y="138" width="1" height="32" fill="#000000"/>
<rect x="131" y="139" width="3" height="18" fill="#000000"/>
<rect x="132" y="140" width="1" height="16" fill="#ffffff"/>
<rect x="135" y="125" width="1" height="22" fill="#000000"/>
<rect x="134" y="134" width="3" height="11" fill="#000000"/>
<rect x="135" y="135" width="1" height="9" fill="#ffffff"/>
<rect x="138" y="127" width="1" height="35" fill="#cc0033"/>
<rect x="137" y="137" width="3" height="16" fill="#cc0033"/>
<rect x="141" y="136" width="1" height="21" fill="#000000"/>
<rect x="140" y="141" width="3" height="9" fill="#000000"/>
<rect x="141" y="142" width="1" height="7" fill="#ffffff"/>
<rect x="144" y="137" width="1" height="24" fill="#cc0033"/>
<rect x="143" y="139" width="3" height="12" fill="#cc0033"/>
<rect x="147" y="126" width="1" height="23" fill="#000000"/>
<rect x="146" y="135" width="3" height="11" fill="#000000"/>
<rect x="147" y="136" width="1" height="9" fill="#ffffff"/>
<rect x="150" y="123" width="1" height="21" fill="#000000"/>
<rect x="149" y="130" width="3" height="2" fill="#000000"/>
<rect x="153" y="117" width="1" height="24" fill="#000000"/>
<rect x="152" y="126" width="3" height="5" fill="#000000"/>
<rect x="153" y="127" width="1" height="3" fill="#ffffff"/>
<rect x="156" y="117" width="1" height="14" fill="#000000"/>
<rect x="155" y="121" width="3" height="5" fill="#000000"/>
<rect x="156" y="122" width="1" height="3" fill="#ffffff"/>
<rect x="159" y="119" width="1" height="12" fill="#cc0033"/>
<rect x="158" y="120" width="3" height="6" fill="#cc0033"/>
<rect x="162" y="114" width="1" height="23" fill="#000000"/>
<rect x="161" y="125" width="3" height="1" fill="#000000"/>
<rect x="165" y="122" width="1" height="19" fill="#cc0033"/>
<rect x="164" y="125" width="3" height="15" fill="#cc0033"/>
<rect x="168" y="134" width="1" height="13" fill="#cc0033"/>
<rect x="167" y="140" width="3" height="2" fill="#cc0033"/>
<rect x="171" y="139" width="1" height="20" fill="#cc0033"/>
<rect x="170" y="141" width="3" height="10" fill="#cc0033"/>
<rect x="174" y="129" width="1" height="42" fill="#cc0033"/>
<rect x="173" y="148" width="3" height="11" fill="#cc0033"/>
<rect x="177" y="152" width="1" height="22" fill="#cc0033"/>
<rect x="176" y="158" width="3" height="14" fill="#cc0033"/>
<rect x="180" y="168" width="1" height="21" fill="#cc0033"/>
<rect x="179" y="172" width="3" height="10" fill="#cc0033"/>
<rect x="183" y="177" width="1" height="51" fill="#cc0033"/>
<rect x="182" y="182" width="3" height="44" fill="#cc0033"/>
<rect x="186" y="210" width="1" height="44" fill="#000000"/>
<rect x="185" y="223" width="3" height="3" fill="#000000"/>
<rect x="186" y="224" width="1" height="1" fill="#ffffff"/>
<rect x="189" y="230" width="1" height="45" fill="#cc0033"/>
<rect x="188" y="231" width="3" height="37" fill="#cc0033"/>
<rect x="192" y="252" width="1" height="59" fill="#000000"/>
<rect x="191" y="259" width="3" height="9" fill="#000000"/>
<rect x="192" y="260" width="1" height="7" fill="#ffffff"/>
<rect x="195" y="251" width="1" height="29" fill="#cc0033"/>
<rect x="194" y="259" width="3" height="3" fill="#cc0033"/>
<rect x="195" y="260" width="1" height="1" fill="#ffffff"/>
<rect x="198" y="229" width="1" height="40" fill="#000000"/>
<rect x="197" y="231" width="3" height="30" fill="#000000"/>
<rect x="198" y="232" width="1" height="28" fill="#ffffff"/>
<rect x="201" y="218" width="1" height="27" fill="#cc0033"/>
<rect x="200" y="232" width="3" height="3" fill="#cc0033"/>
<rect x="204" y="212" width="1" height="30" fill="#000000"/>
<rect x="203" y="215" width="3" height="17" fill="#000000"/>
<rect x="204" y="216" width="1" height="15" fill="#ffffff"/>
<rect x="207" y="213" width="1" height="20" fill="#cc0033"/>
<rect x="206" y="215" width="3" height="6" fill="#cc0033"/>
<rect x="210" y="205" width="1" height="19" fill="#000000"/>
<rect x="209" y="218" width="3" height="3" fill="#000000"/>
<rect x="210" y="219" width="1" height="1" fill="#ffffff"/>
<rect x="213" y="217" width="1" height="51" fill="#cc0033"/>
<rect x="212" y="217" width="3" height="49" fill="#cc0033"/>
<rect x="216" y="246" width="1" height="36" fill="#000000"/>
<rect x="215" y="254" width="3" height="10" fill="#000000"/>
<rect x="216" y="255" width="1" height="8" fill="#ffffff"/>
<rect x="219" y="238" width="1" height="28" fill="#000000"/>
<rect x="218" y="241" width="3" height="17" fill="#000000"/>
<rect x="219" y="242" width="1" height="15" fill="#ffffff"/>
<rect x="222" y="226" width="1" height="24" fill="#000000"/>
<rect x="221" y="231" width="3" height="11" fill="#000000"/>
<rect x="222" y="232" width="1" height="9" fill="#ffffff"/>
<rect x="225" y="224" width="1" height="17" fill="#cc0033"/>
<rect x="224" y="231" width="3" height="4" fill="#cc0033"/>
<rect x="228" y="224" width="1" height="29" fill="#cc0033"/>
<rect x="227" y="235" width="3" height="3" fill="#cc0033"/>
<rect x="231" y="231" width="1" height="23" fill="#000000"/>
<rect x="230" y="232" width="3" height="5" fill="#000000"/>
<rect x="231" y="233" width="1" height="3" fill="#ffffff"/>
<rect x="234" y="216" width="1" height="2" fill="#000000"/>
<rect x="233" y="216" width="3" height="2" fill="#000000"/>
<rect x="237" y="203" width="1" height="23" fill="#000000"/>
<rect x="236" y="207" width="3" height="11" fill="#000000"/>
<rect x="237" y="208" width="1" height="9" fill="#ffffff"/>
<rect x="240" y="201" width="1" height="15" fill="#cc0033"/>
<rect x="239" y="207" width="3" height="1" fill="#cc0033"/>
<rect x="243" y="198" width="1" height="14" fill="#000000"/>
<rect x="242" y="207" width="3" height="1" fill="#000000"/>
<rect x="246" y="205" width="1" height="29" fill="#cc0033"/>
<rect x="245" y="207" width="3" height="17" fill="#cc0033"/>
<rect x="249" y="224" width="1" height="28" fill="#cc0033"/>
<rect x="248" y="224" width="3" height="2" fill="#cc0033"/>
<rect x="252" y="193" width="1" height="35" fill="#000000"/>
<rect x="251" y="196" width="3" height="30" fill="#000000"/>
<rect x="252" y="197" width="1" height="28" fill="#ffffff"/>
<rect x="255" y="195" width="1" height="16" fill="#cc0033"/>
<rect x="254" y="196" width="3" height="13" fill="#cc0033"/>
<rect x="258" y="201" width="1" height="31" fill="#cc0033"/>
<rect x="257" y="207" width="3" height="15" fill="#cc0033"/>
<rect x="261" y="205" width="1" height="32" fill="#000000"/>
<rect x="260" y="206" width="3" height="18" fill="#000000"/>
<rect x="261" y="207" width="1" height="16" fill="#ffffff"/>
<rect x="264" y="193" width="1" height="21" fill="#000000"/>
<rect x="263" y="199" width="3" height="6" fill="#000000"/>
<rect x="264" y="200" width="1" height="4" fill="#ffffff"/>
<rect x="267" y="195" width="1" height="17" fill="#cc0033"/>
<rect x="266" y="198" width="3" height="12" fill="#cc0033"/>
<rect x="270" y="196" width="1" height="18" fill="#000000"/>
<rect x="269" y="206" width="3" height="3" fill="#000000"/>
<rect x="270" y="207" width="1" height="1" fill="#ffffff"/>
<rect x="273" y="199" width="1" height="22" fill="#cc0033"/>
<rect x="272" y="204" width="3" height="10" fill="#cc0033"/>
<rect x="276" y="214" width="1" height="24" fill="#cc0033"/>
<rect x="275" y="214" width="3" height="14" fill="#cc0033"/>
<rect x="279" y="215" width="1" height="19" fill="#000000"/>
<rect x="278" y="225" width="3" height="3" fill="#000000"/>
<rect x="279" y="226" width="1" height="1" fill="#ffffff"/>
<rect x="282" y="213" width="1" height="26" fill="#cc0033"/>
<rect x="281" y="225" width="3" height="13" fill="#cc0033"/>
<rect x="285" y="236" width="1" height="43" fill="#cc0033"/>
<rect x="284" y="238" width="3" height="35" fill="#cc0033"/>
<rect x="288" y="262" width="1" height="34" fill="#cc0033"/>
<rect x="287" y="273" width="3" height="4" fill="#cc0033"/>
<rect x="291" y="263" width="1" height="36" fill="#000000"/>
<rect x="290" y="264" width="3" height="15" fill="#000000"/>
<rect x="291" y="265" width="1" height="13" fill="#ffffff"/>
<rect x="294" y="238" width="1" height="32" fill="#000000"/>
<rect x="293" y="247" width="3" height="18" fill="#000000"/>
<rect x="294" y="248" width="1" height="16" fill="#ffffff"/>
<rect x="297" y="239" width="1" height="34" fill="#cc0033"/>
<rect x="296" y="246" width="3" height="26" fill="#cc0033"/>
<rect x="300" y="244" width="1" height="36" fill="#000000"/>
<rect x="299" y="251" width="3" height="20" fill="#000000"/>
<rect x="300" y="252" width="1" height="18" fill="#ffffff"/>
<rect x="303" y="250" width="1" height="38" fill="#cc0033"/>
<rect x="302" y="251" width="3" height="34" fill="#cc0033"/>
<rect x="306" y="279" width="1" height="27" fill="#cc0033"/>
<rect x="305" y="284" width="3" height="21" fill="#cc0033"/>
<rect x="309" y="288" width="1" height="5" fill="#000000"/>
<rect x="308" y="290" width="3" height="1" fill="#000000"/>
<rect x="312" y="276" width="1" height="25" fill="#000000"/>
<rect x="311" y="278" width="3" height="13" fill="#000000"/>
<rect x="312" y="279" width="1" height="11" fill="#ffffff"/>
<rect x="315" y="253" width="1" height="31" fill="#000000"/>
<rect x="314" y="256" width="3" height="22" fill="#000000"/>
<rect x="315" y="257" width="1" height="20" fill="#ffffff"/>
<rect x="318" y="244" width="1" height="22" fill="#000000"/>
<rect x="317" y="254" width="3" height="3" fill="#000000"/>
<rect x="318" y="255" width="1" height="1" fill="#ffffff"/>
<rect x="321" y="228" width="1" height="27" fill="#000000"/>
<rect x="320" y="230" width="3" height="25" fill="#000000"/>
<rect x="321" y="231" width="1" height="23" fill="#ffffff"/>
<rect x="324" y="224" width="1" height="22" fill="#cc0033"/>
<rect x="323" y="231" width="3" height="4" fill="#cc0033"/>
<rect x="327" y="224" width="1" height="17" fill="#cc0033"/>
<rect x="326" y="235" width="3" height="3" fill="#cc0033"/>
<rect x="330" y="233" width="1" height="19" fill="#cc0033"/>
<rect x="329" y="237" width="3" height="4" fill="#cc0033"/>
<rect x="333" y="217" width="1" height="29" fill="#000000"/>
<rect x="332" y="219" width="3" height="23" fill="#000000"/>
<rect x="333" y="220" width="1" height="21" fill="#ffffff"/>
<rect x="336" y="211" width="1" height="20" fill="#cc0033"/>
<rect x="335" y="217" width="3" height="9" fill="#cc0033"/>
<rect x="339" y="203" width="1" height="29" fill="#000000"/>
<rect x="338" y="208" width="3" height="18" fill="#000000"/>
<rect x="339" y="209" width="1" height="16" fill="#ffffff"/>
<rect x="342" y="200" width="1" height="29" fill="#cc0033"/>
<rect x="341" y="209" width="3" height="19" fill="#cc0033"/>
<rect x="345" y="220" width="1" height="24" fill="#000000"/>
<rect x="344" y="225" width="3" height="3" fill="#000000"/>
<rect x="345" y="226" width="1" height="1" fill="#ffffff"/>
<rect x="348" y="206" width="1" height="23" fill="#000000"/>
<rect x="347" y="218" width="3" height="8" fill="#000000"/>
<rect x="348" y="219" width="1" height="6" fill="#ffffff"/>
<rect x="351" y="182" width="1" height="40" fill="#000000"/>
<rect x="350" y="184" width="3" height="37" fill="#000000"/>
<rect x="351" y="185" width="1" height="35" fill="#ffffff"/>
<rect x="354" y="161" width="1" height="27" fill="#000000"/>
<rect x="353" y="178" width="3" height="7" fill="#000000"/>
<rect x="354" y="179" width="1" height="5" fill="#ffffff"/>
<rect x="357" y="166" width="1" height="32" fill="#cc0033"/>
<rect x="356" y="177" width="3" height="14" fill="#cc0033"/>
<rect x="360" y="164" width="1" height="28" fill="#000000"/>
<rect x="359" y="166" width="3" height="23" fill="#000000"/>
<rect x="360" y="167" width="1" height="21" fill="#ffffff"/>
<rect x="363" y="166" width="1" height="16" fill="#cc0033"/>
<rect x="362" y="166" width="3" height="3" fill="#cc0033"/>
<rect x="366" y="167" width="1" height="20" fill="#cc0033"/>
<rect x="365" y="169" width="3" height="9" fill="#cc0033"/>
<rect x="369" y="174" width="1" height="31" fill="#cc0033"/>
<rect x="368" y="177" width="3" height="9" fill="#cc0033"/>
<rect x="372" y="167" width="1" height="22" fill="#000000"/>
<rect x="371" y="175" width="3" height="11" fill="#000000"/>
<rect x="372" y="176" width="1" height="9" fill="#ffffff"/>
<rect x="375" y="161" width="1" height="30" fill="#000000"/>
<rect x="374" y="164" width="3" height="10" fill="#000000"/>
<rect x="375" y="165" width="1" height="8" fill="#ffffff"/>
<rect x="378" y="158" width="1" height="18" fill="#000000"/>
<rect x="377" y="162" width="3" height="3" fill="#000000"/>
<rect x="378" y="163" width="1" height="1" fill="#ffffff"/>
<rect x="381" y="149" width="1" height="24" fill="#000000"/>
<rect x="380" y="150" width="3" height="14" fill="#000000"/>
<rect x="381" y="151" width="1" height="12" fill="#ffffff"/>
<rect x="384" y="141" width="1" height="16" fill="#000000"/>
<rect x="383" y="144" width="3" height="7" fill="#000000"/>
<rect x="384" y="145" width="1" height="5" fill="#ffffff"/>
<rect x="387" y="135" width="1" height="27" fill="#cc0033"/>
<rect x="386" y="144" width="3" height="8" fill="#cc0033"/>
<rect x="390" y="131" width="1" height="26" fill="#000000"/>
<rect x="389" y="138" width="3" height="14" fill="#000000"/>
<rect x="390" y="139" width="1" height="12" fill="#ffffff"/>
<rect x="393" y="123" width="1" height="17" fill="#000000"/>
<rect x="392" y="125" width="3" height="14" fill="#000000"/>
<rect x="393" y="126" width="1" height="12" fill="#ffffff"/>
<rect x="396" y="121" width="1" height="21" fill="#cc0033"/>
<rect x="395" y="124" width="3" height="10" fill="#cc0033"/>
<rect x="399" y="120" width="1" height="19" fill="#000000"/>
<rect x="398" y="125" width="3" height="10" fill="#000000"/>
<rect x="399" y="126" width="1" height="8" fill="#ffffff"/>
<rect x="402" y="96" width="1" height="36" fill="#000000"/>
<rect x="401" y="105" width="3" height="19" fill="#000000"/>
<rect x="402" y="106" width="1" height="17" fill="#ffffff"/>
<rect x="405" y="92" width="1" height="41" fill="#cc0033"/>
<rect x="404" y="105" width="3" height="24" fill="#cc0033"/>
<rect x="408" y="116" width="1" height="29" fill="#cc0033"/>
<rect x="407" y="129" width="3" height="7" fill="#cc0033"/>
<rect x="411" y="135" width="1" height="22" fill="#cc0033"/>
<rect x="410" y="138" width="3" height="1" fill="#cc0033"/>
<rect x="414" y="129" width="1" height="17" fill="#000000"/>
<rect x="413" y="137" width="3" height="4" fill="#000000"/>
<rect x="414" y="138" width="1" height="2" fill="#ffffff"/>
<rect x="417" y="135" width="1" height="21" fill="#cc0033"/>
<rect x="416" y="136" width="3" height="15" fill="#cc0033"/>
<rect x="420" y="138" width="1" height="21" fill="#000000"/>
<rect x="419" y="140" width="3" height="13" fill="#000000"/>
<rect x="420" y="141" width="1" height="11" fill="#ffffff"/>
<rect x="423" y="113" width="1" height="29" fill="#000000"/>
<rect x="422" y="137" width="3" height="2" fill="#000000"/>
<rect x="426" y="117" width="1" height="24" fill="#000000"/>
<rect x="425" y="123" width="3" height="14" fill="#000000"/>
<rect x="426" y="124" width="1" height="12" fill="#ffffff"/>
<rect x="429" y="105" width="1" height="23" fill="#000000"/>
<rect x="428" y="115" width="3" height="9" fill="#000000"/>
<rect x="429" y="116" width="1" height="7" fill="#ffffff"/>
<rect x="432" y="109" width="1" height="19" fill="#cc0033"/>
<rect x="431" y="114" width="3" height="5" fill="#cc0033"/>
<rect x="435" y="106" width="1" height="15" fill="#000000"/>
<rect x="434" y="111" width="3" height="8" fill="#000000"/>
<rect x="435" y="112" width="1" height="6" fill="#ffffff"/>
<rect x="438" y="99" width="1" height="19" fill="#cc0033"/>
<rect x="437" y="109" width="3" height="6" fill="#cc0033"/>
<rect x="441" y="107" width="1" height="11" fill="#000000"/>
<rect x="440" y="111" width="3" height="5" fill="#000000"/>
<rect x="441" y="112" width="1" height="3" fill="#ffffff"/>
<rect x="444" y="103" width="1" height="19" fill="#cc0033"/>
<rect x="443" y="110" width="3" height="4" fill="#cc0033"/>
<rect x="447" y="105" width="1" height="32" fill="#cc0033"/>
<rect x="446" y="112" width="3" height="22" fill="#cc0033"/>
<rect x="450" y="119" width="1" height="21" fill="#000000"/>
<rect x="449" y="120" width="3" height="15" fill="#000000"/>
<rect x="450" y="121" width="1" height="13" fill="#ffffff"/>
<rect x="453" y="121" width="1" height="17" fill="#cc0033"/>
<rect x="452" y="122" width="3" height="13" fill="#cc0033"/>
<rect x="456" y="109" width="1" height="29" fill="#000000"/>
<rect x="455" y="117" width="3" height="19" fill="#000000"/>
<rect x="456" y="118" width="1" height="17" fill="#ffffff"/>
<rect x="459" y="116" width="1" height="49" fill="#cc0033"/>
<rect x="458" y="116" width="3" height="43" fill="#cc0033"/>
<rect x="462" y="150" width="1" height="22" fill="#cc0033"/>
<rect x="461" y="159" width="3" height="12" fill="#cc0033"/>
<rect x="465" y="159" width="1" height="19" fill="#000000"/>
<rect x="464" y="168" width="3" height="3" fill="#000000"/>
<rect x="465" y="169" width="1" height="1" fill="#ffffff"/>
<rect x="468" y="161" width="1" height="15" fill="#000000"/>
<rect x="467" y="165" width="3" height="3" fill="#000000"/>
<rect x="468" y="166" width="1" height="1" fill="#ffffff"/>
<rect x="471" y="137" width="1" height="28" fill="#000000"/>
<rect x="470" y="139" width="3" height="26" fill="#000000"/>
<rect x="471" y="140" width="1" height="24" fill="#ffffff"/>
<rect x="474" y="124" width="1" height="21" fill="#000000"/>
<rect x="473" y="128" width="3" height="1" fill="#000000"/>
<rect x="477" y="118" width="1" height="13" fill="#000000"/>
<rect x="476" y="123" width="3" height="3" fill="#000000"/>
<rect x="477" y="124" width="1" height="1" fill="#ffffff"/>
<rect x="480" y="117" width="1" height="8" fill="#000000"/>
<rect x="479" y="120" width="3" height="4" fill="#000000"/>
<rect x="480" y="121" width="1" height="2" fill="#ffffff"/>
<rect x="483" y="105" width="1" height="19" fill="#000000"/>
<rect x="482" y="109" width="3" height="11" fill="#000000"/>
<rect x="483" y="110" width="1" height="9" fill="#ffffff"/>
<rect x="486" y="105" width="1" height="21" fill="#cc0033"/>
<rect x="485" y="109" width="3" height="13" fill="#cc0033"/>
<rect x="489" y="119" width="1" height="14" fill="#000000"/>
<rect x="488" y="121" width="3" height="2" fill="#000000"/>
<rect x="492" y="117" width="1" height="13" fill="#cc0033"/>
<rect x="491" y="120" width="3" height="6" fill="#cc0033"/>
<rect x="495" y="92" width="1" height="30" fill="#000000"/>
<rect x="494" y="96" width="3" height="26" fill="#000000"/>
<rect x="495" y="97" width="1" height="24" fill="#ffffff"/>
<rect x="498" y="89" width="1" height="16" fill="#000000"/>
<rect x="497" y="93" width="3" height="3" fill="#000000"/>
<rect x="498" y="94" width="1" height="1" fill="#ffffff"/>
<rect x="501" y="89" width="1" height="20" fill="#cc0033"/>
<rect x="500" y="93" width="3" height="16" fill="#cc0033"/>
<rect x="504" y="96" width="1" height="17" fill="#000000"/>
<rect x="503" y="103" width="3" height="6" fill="#000000"/>
<rect x="504" y="104" width="1" height="4" fill="#ffffff"/>
<rect x="507" y="102" width="1" height="17" fill="#cc0033"/>
<rect x="506" y="103" width="3" height="6" fill="#cc0033"/>
<rect x="510" y="92" width="1" height="17" fill="#000000"/>
<rect x="509" y="102" width="3" height="7" fill="#000000"/>
<rect x="510" y="103" width="1" height="5" fill="#ffffff"/>
<rect x="513" y="99" width="1" height="16" fill="#cc0033"/>
<rect x="512" y="101" width="3" height="10" fill="#cc0033"/>
<rect x="516" y="95" width="1" height="36" fill="#cc0033"/>
<rect x="515" y="111" width="3" height="14" fill="#cc0033"/>
<rect x="519" y="118" width="1" height="20" fill="#cc0033"/>
<rect x="518" y="125" width="3" height="2" fill="#cc0033"/>
<rect x="522" y="111" width="1" height="19" fill="#000000"/>
<rect x="521" y="112" width="3" height="16" fill="#000000"/>
<rect x="522" y="113" width="1" height="14" fill="#ffffff"/>
<rect x="525" y="102" width="1" height="19" fill="#000000"/>
<rect x="524" y="111" width="3" height="1" fill="#000000"/>
<rect x="528" y="101" width="1" height="17" fill="#cc0033"/>
<rect x="527" y="108" width="3" height="7" fill="#cc0033"/>
<rect x="531" y="111" width="1" height="24" fill="#cc0033"/>
<rect x="530" y="115" width="3" height="16" fill="#cc0033"/>
<rect x="534" y="117" width="1" height="23" fill="#000000"/>
<rect x="533" y="121" width="3" height="11" fill="#000000"/>
<rect x="534" y="122" width="1" height="9" fill="#ffffff"/>
<rect x="537" y="117" width="1" height="16" fill="#cc0033"/>
<rect x="536" y="119" width="3" height="6" fill="#cc0033"/>
<rect x="540" y="115" width="1" height="24" fill="#000000"/>
<rect x="539" y="121" width="3" height="5" fill="#000000"/>
<rect x="540" y="122" width="1" height="3" fill="#ffffff"/>
<rect x="543" y="108" width="1" height="18" fill="#000000"/>
<rect x="542" y="120" width="3" height="1" fill="#000000"/>
<rect x="546" y="114" width="1" height="12" fill="#cc0033"/>
<rect x="545" y="119" width="3" height="2" fill="#cc0033"/>
<rect x="549" y="118" width="1" height="13" fill="#cc0033"/>
<rect x="548" y="118" width="3" height="9" fill="#cc0033"/>
<rect x="552" y="108" width="1" height="28" fill="#cc0033"/>
<rect x="551" y="127" width="3" height="5" fill="#cc0033"/>
<rect x="555" y="122" width="1" height="20" fill="#cc0033"/>
<rect x="554" y="131" width="3" height="11" fill="#cc0033"/>
<rect x="558" y="134" width="1" height="21" fill="#cc0033"/>
<rect x="557" y="141" width="3" height="5" fill="#cc0033"/>
<rect x="561" y="134" width="1" height="17" fill="#000000"/>
<rect x="560" y="137" width="3" height="9" fill="#000000"/>
<rect x="561" y="138" width="1" height="7" fill="#ffffff"/>
<rect x="564" y="136" width="1" height="12" fill="#cc0033"/>
<rect x="563" y="136" width="3" height="5" fill="#cc0033"/>
<rect x="567" y="125" width="1" height="27" fill="#000000"/>
<rect x="566" y="129" width="3" height="12" fill="#000000"/>
<rect x="567" y="130" width="1" height="10" fill="#ffffff"/>
<rect x="570" y="118" width="1" height="16" fill="#000000"/>
<rect x="569" y="126" width="3" height="3" fill="#000000"/>
<rect x="570" y="127" width="1" height="1" fill="#ffffff"/>
<rect x="573" y="118" width="1" height="12" fill="#000000"/>
<rect x="572" y="121" width="3" height="5" fill="#000000"/>
<rect x="573" y="122" width="1" height="3" fill="#ffffff"/>
<rect x="576" y="119" width="1" height="22" fill="#cc0033"/>
<rect x="575" y="119" width="3" height="7" fill="#cc0033"/>
<rect x="579" y="112" width="1" height="15" fill="#000000"/>
<rect x="578" y="113" width="3" height="12" fill="#000000"/>
<rect x="579" y="114" width="1" height="10" fill="#ffffff"/>
<rect x="582" y="104" width="1" height="13" fill="#000000"/>
<rect x="581" y="111" width="3" height="3" fill="#000000"/>
<rect x="582" y="112" width="1" height="1" fill="#ffffff"/>
<rect x="585" y="98" width="1" height="17" fill="#000000"/>
<rect x="584" y="105" width="3" height="7" fill="#000000"/>
<rect x="585" y="106" width="1" height="5" fill="#ffffff"/>
<rect x="588" y="97" width="1" height="16" fill="#000000"/>
<rect x="587" y="101" width="3" height="3" fill="#000000"/>
<rect x="588" y="102" width="1" height="1" fill="#ffffff"/>
<rect x="591" y="83" width="1" height="15" fill="#000000"/>
<rect x="590" y="85" width="3" height="13" fill="#000000"/>
<rect x="591" y="86" width="1" height="11" fill="#ffffff"/>
<rect x="594" y="68" width="1" height="15" fill="#000000"/>
<rect x="593" y="72" width="3" height="10" fill="#000000"/>
<rect x="594" y="73" width="1" height="8" fill="#ffffff"/>
<rect x="597" y="66" width="1" height="9" fill="#000000"/>
<rect x="600" y="50" width="1" height="27" fill="#000000"/>
<rect x="599" y="51" width="3" height="21" fill="#000000"/>
<rect x="600" y="52" width="1" height="19" fill="#ffffff"/>
<rect x="603" y="39" width="1" height="18" fill="#000000"/>
<rect x="602" y="44" width="3" height="7" fill="#000000"/>
<rect x="603" y="45" width="1" height="5" fill="#ffffff"/>
<rect x="606" y="42" width="1" height="20" fill="#cc0033"/>
<rect x="605" y="42" width="3" height="14" fill="#cc0033"/>
<rect x="609" y="49" width="1" height="21" fill="#cc0033"/>
<rect x="608" y="56" width="3" height="12" fill="#cc0033"/>
<rect x="612" y="60" width="1" height="19" fill="#000000"/>
<rect x="611" y="65" width="3" height="4" fill="#000000"/>
<rect x="612" y="66" width="1" height="2" fill="#ffffff"/>
<rect x="615" y="36" width="1" height="32" fill="#000000"/>
<rect x="614" y="51" width="3" height="15" fill="#000000"/>
<rect x="615" y="52" width="1" height="13" fill="#ffffff"/>
<rect x="618" y="47" width="1" height="27" fill="#cc0033"/>
<rect x="617" y="51" width="3" height="15" fill="#cc0033"/>
<rect x="621" y="60" width="1" height="16" fill="#000000"/>
<rect x="620" y="63" width="3" height="3" fill="#000000"/>
<rect x="621" y="64" width="1" height="1" fill="#ffffff"/>
<rect x="624" y="61" width="1" height="23" fill="#cc0033"/>
<rect x="623" y="63" width="3" height="17" fill="#cc0033"/>
<rect x="627" y="67" width="1" height="17" fill="#000000"/>
<rect x="626" y="71" width="3" height="9" fill="#000000"/>
<rect x="627" y="72" width="1" height="7" fill="#ffffff"/>
</g>
<line x1="600.8" y1="36.6" x2="633.4" y2="63.2" stroke="#0000ff" stroke-width="2.3"/>
<line x1="585.8" y1="64.7" x2="630.3" y2="90" stroke="#0000ff" stroke-width="2.3"/>
<rect x="558.7" y="360.6" width="74.3" height="73.6" fill="none" stroke="#0000ff" stroke-width="2.6"/>
<g>
<rect x="401" y="49" width="156" height="31" fill="#000"/>
<rect x="399.5" y="47.5" width="156" height="31" fill="#fff" stroke="#222" stroke-width="1"/>
<polygon points="555,60 578,60 555,68" fill="#fff"/>
<rect x="555" y="60.2" width="3" height="7" fill="#fff"/>
<line x1="556" y1="60.3" x2="578" y2="59.8" stroke="#777" stroke-width="1"/>
<line x1="578" y1="60.3" x2="556.5" y2="67.3" stroke="#222" stroke-width="2"/>
</g>
<text x="402" y="60" font-size="11" font-weight="bold" fill="#0000ff" text-anchor="start" textLength="141.5" lengthAdjust="spacingAndGlyphs" filter="url(#idf)">Potential bull flag setup in</text>
<text x="402" y="75.8" font-size="11" font-weight="bold" fill="#0000ff" text-anchor="start" textLength="48" lengthAdjust="spacingAndGlyphs" filter="url(#idf)">crude oil</text>
<rect x="476" y="269" width="156" height="31" fill="#000"/>
<rect x="474.5" y="267.5" width="156" height="31" fill="#fff" stroke="#222" stroke-width="1"/>
<polygon points="550,298 580,352 556.5,298" fill="#fff"/>
<line x1="550" y1="299.5" x2="580" y2="352" stroke="#888" stroke-width="0.9"/>
<line x1="556.3" y1="300" x2="580" y2="352" stroke="#444" stroke-width="1.6"/>
<text x="477" y="280" font-size="11" font-weight="bold" fill="#0000ff" text-anchor="start" textLength="111.3" lengthAdjust="spacingAndGlyphs" filter="url(#idf)">Many above average</text>
<text x="477" y="295.8" font-size="11" font-weight="bold" fill="#0000ff" text-anchor="start" textLength="127.2" lengthAdjust="spacingAndGlyphs" filter="url(#idf)">volume advancing days</text>
<text x="16.7" y="14.5" font-size="13" font-weight="bold" fill="#000" text-anchor="start" textLength="40" lengthAdjust="spacingAndGlyphs" filter="url(#idf)">$WTIC</text>
<text x="61.2" y="14.1" font-size="11" font-weight="normal" fill="#000" text-anchor="start" textLength="168.3" lengthAdjust="spacingAndGlyphs" stroke="#000" stroke-width="0.15" filter="url(#idf)">(Light Crude Oil - Spot Price (EOD))</text>
<text x="235" y="13.4" font-size="8" font-weight="normal" fill="#000" text-anchor="start" textLength="21" lengthAdjust="spacingAndGlyphs" stroke="#000" stroke-width="0.15" filter="url(#idf)">CME</text>
<text x="544" y="13.4" font-size="9" font-weight="normal" fill="#555" text-anchor="start" textLength="7.2" lengthAdjust="spacingAndGlyphs" filter="url(#idf)">©</text>
<text x="553.8" y="13.7" font-size="10.3" font-weight="normal" fill="#555" text-anchor="start" textLength="80" lengthAdjust="spacingAndGlyphs" filter="url(#idf)">StockCharts.com</text>
<text x="16.7" y="26.8" font-size="9.6" font-weight="normal" fill="#000" text-anchor="start" textLength="52.4" lengthAdjust="spacingAndGlyphs" stroke="#000" stroke-width="0.15" filter="url(#idf)">7-Mar-2012</text>
<text x="162.9" y="26.8" font-size="10.3" font-weight="bold" fill="#000" text-anchor="start" textLength="28.3" lengthAdjust="spacingAndGlyphs" filter="url(#idf)">Open</text>
<text x="195.9" y="26.8" font-size="10.1" font-weight="normal" fill="#000" text-anchor="start" textLength="31.5" lengthAdjust="spacingAndGlyphs" stroke="#000" stroke-width="0.15" filter="url(#idf)">104.93</text>
<text x="233.9" y="26.8" font-size="10.3" font-weight="bold" fill="#000" text-anchor="start" textLength="23.1" lengthAdjust="spacingAndGlyphs" filter="url(#idf)">High</text>
<text x="262" y="26.8" font-size="10.1" font-weight="normal" fill="#000" text-anchor="start" textLength="31.25" lengthAdjust="spacingAndGlyphs" stroke="#000" stroke-width="0.15" filter="url(#idf)">106.55</text>
<text x="299.5" y="26.8" font-size="10.3" font-weight="bold" fill="#000" text-anchor="start" textLength="23" lengthAdjust="spacingAndGlyphs" filter="url(#idf)">Low</text>
<text x="327.5" y="26.8" font-size="10.1" font-weight="normal" fill="#000" text-anchor="start" textLength="31.25" lengthAdjust="spacingAndGlyphs" stroke="#000" stroke-width="0.15" filter="url(#idf)">104.35</text>
<text x="365.75" y="26.8" font-size="10.3" font-weight="bold" fill="#000" text-anchor="start" textLength="31.25" lengthAdjust="spacingAndGlyphs" filter="url(#idf)">Close</text>
<text x="401.25" y="26.8" font-size="10.1" font-weight="normal" fill="#000" text-anchor="start" textLength="31.75" lengthAdjust="spacingAndGlyphs" stroke="#000" stroke-width="0.15" filter="url(#idf)">106.13</text>
<text x="440" y="26.8" font-size="10.3" font-weight="bold" fill="#000" text-anchor="start" textLength="41.25" lengthAdjust="spacingAndGlyphs" filter="url(#idf)">Volume</text>
<text x="486.25" y="26.8" font-size="10.1" font-weight="normal" fill="#000" text-anchor="start" textLength="33.75" lengthAdjust="spacingAndGlyphs" stroke="#000" stroke-width="0.15" filter="url(#idf)">307.3K</text>
<text x="525.5" y="26.8" font-size="10.3" font-weight="bold" fill="#000" text-anchor="start" textLength="21.5" lengthAdjust="spacingAndGlyphs" filter="url(#idf)">Chg</text>
<text x="551.25" y="26.8" font-size="10.1" font-weight="normal" fill="#000" text-anchor="start" textLength="71.25" lengthAdjust="spacingAndGlyphs" stroke="#000" stroke-width="0.15" filter="url(#idf)">+1.12 (+1.07%)</text>
<polygon points="625.5,26.2 633.4,26.2 629.45,21.8" fill="#2a6a22"/>
<text x="29.0179" y="39.9" font-size="9.3" font-weight="normal" fill="#000" text-anchor="start" textLength="107.143" lengthAdjust="spacing" transform="scale(1.12,1)" stroke="#000" stroke-width="0.15" filter="url(#idf)">$WTIC (Daily) 106.13</text>
<text x="28.3036" y="342.5" font-size="9.3" font-weight="normal" fill="#000" text-anchor="start" textLength="174.821" lengthAdjust="spacing" transform="scale(1.12,1)" stroke="#000" stroke-width="0.15" filter="url(#idf)">Volume 307.30K, EMA(60) 273.53K</text>
<g shape-rendering="crispEdges">
<rect x="20" y="32" width="1" height="7" fill="#000"/>
<rect x="19" y="33" width="3" height="5" fill="#000"/>
<rect x="20" y="33" width="1" height="3" fill="#fff"/>
<rect x="23" y="35" width="1" height="5" fill="#000"/>
<rect x="22" y="35" width="3" height="4" fill="#000"/>
<rect x="26" y="32" width="1" height="8" fill="#000"/>
<rect x="25" y="33" width="3" height="6" fill="#000"/>
<rect x="26" y="34" width="1" height="4" fill="#fff"/>
<rect x="19" y="338" width="4" height="5" fill="#444"/>
<rect x="20" y="339" width="2" height="4" fill="#999"/>
<rect x="22" y="334" width="4" height="9" fill="#444"/>
<rect x="23" y="335" width="2" height="8" fill="#999"/>
<rect x="25" y="336" width="4" height="7" fill="#444"/>
<rect x="26" y="337" width="2" height="6" fill="#999"/>
</g>
<text x="663" y="44" font-size="10" font-weight="normal" fill="#000" text-anchor="end" textLength="25.2" lengthAdjust="spacingAndGlyphs" stroke="#000" stroke-width="0.15" filter="url(#idf)">110.0</text>
<text x="663" y="63" font-size="10" font-weight="normal" fill="#000" text-anchor="end" textLength="25.2" lengthAdjust="spacingAndGlyphs" stroke="#000" stroke-width="0.15" filter="url(#idf)">107.5</text>
<text x="663" y="83" font-size="10" font-weight="normal" fill="#000" text-anchor="end" textLength="25.2" lengthAdjust="spacingAndGlyphs" stroke="#000" stroke-width="0.15" filter="url(#idf)">105.0</text>
<text x="663" y="103" font-size="10" font-weight="normal" fill="#000" text-anchor="end" textLength="25.2" lengthAdjust="spacingAndGlyphs" stroke="#000" stroke-width="0.15" filter="url(#idf)">102.5</text>
<text x="663" y="122" font-size="10" font-weight="normal" fill="#000" text-anchor="end" textLength="25.2" lengthAdjust="spacingAndGlyphs" stroke="#000" stroke-width="0.15" filter="url(#idf)">100.0</text>
<text x="663" y="142" font-size="10" font-weight="normal" fill="#000" text-anchor="end" textLength="20" lengthAdjust="spacingAndGlyphs" stroke="#000" stroke-width="0.15" filter="url(#idf)">97.5</text>
<text x="663" y="162" font-size="10" font-weight="normal" fill="#000" text-anchor="end" textLength="20" lengthAdjust="spacingAndGlyphs" stroke="#000" stroke-width="0.15" filter="url(#idf)">95.0</text>
<text x="663" y="181" font-size="10" font-weight="normal" fill="#000" text-anchor="end" textLength="20" lengthAdjust="spacingAndGlyphs" stroke="#000" stroke-width="0.15" filter="url(#idf)">92.5</text>
<text x="663" y="201" font-size="10" font-weight="normal" fill="#000" text-anchor="end" textLength="20" lengthAdjust="spacingAndGlyphs" stroke="#000" stroke-width="0.15" filter="url(#idf)">90.0</text>
<text x="663" y="221" font-size="10" font-weight="normal" fill="#000" text-anchor="end" textLength="20" lengthAdjust="spacingAndGlyphs" stroke="#000" stroke-width="0.15" filter="url(#idf)">87.5</text>
<text x="663" y="240" font-size="10" font-weight="normal" fill="#000" text-anchor="end" textLength="20" lengthAdjust="spacingAndGlyphs" stroke="#000" stroke-width="0.15" filter="url(#idf)">85.0</text>
<text x="663" y="260" font-size="10" font-weight="normal" fill="#000" text-anchor="end" textLength="20" lengthAdjust="spacingAndGlyphs" stroke="#000" stroke-width="0.15" filter="url(#idf)">82.5</text>
<text x="663" y="280" font-size="10" font-weight="normal" fill="#000" text-anchor="end" textLength="20" lengthAdjust="spacingAndGlyphs" stroke="#000" stroke-width="0.15" filter="url(#idf)">80.0</text>
<text x="663" y="299" font-size="10" font-weight="normal" fill="#000" text-anchor="end" textLength="20" lengthAdjust="spacingAndGlyphs" stroke="#000" stroke-width="0.15" filter="url(#idf)">77.5</text>
<text x="661.8" y="353" font-size="10" font-weight="normal" fill="#000" text-anchor="end" textLength="24.8" lengthAdjust="spacingAndGlyphs" stroke="#000" stroke-width="0.15" filter="url(#idf)">500K</text>
<text x="661.8" y="369" font-size="10" font-weight="normal" fill="#000" text-anchor="end" textLength="24.8" lengthAdjust="spacingAndGlyphs" stroke="#000" stroke-width="0.15" filter="url(#idf)">400K</text>
<text x="661.8" y="386" font-size="10" font-weight="normal" fill="#000" text-anchor="end" textLength="24.8" lengthAdjust="spacingAndGlyphs" stroke="#000" stroke-width="0.15" filter="url(#idf)">300K</text>
<text x="661.8" y="402" font-size="10" font-weight="normal" fill="#000" text-anchor="end" textLength="24.8" lengthAdjust="spacingAndGlyphs" stroke="#000" stroke-width="0.15" filter="url(#idf)">200K</text>
<text x="661.8" y="419" font-size="10" font-weight="normal" fill="#000" text-anchor="end" textLength="24.8" lengthAdjust="spacingAndGlyphs" stroke="#000" stroke-width="0.15" filter="url(#idf)">100K</text>
<text x="48.5" y="328.9" font-size="9" font-weight="normal" fill="#000" text-anchor="middle" textLength="17" lengthAdjust="spacingAndGlyphs" stroke="#000" stroke-width="0.15" filter="url(#idf)">Jun</text>
<text x="48.5" y="444.8" font-size="9" font-weight="normal" fill="#000" text-anchor="middle" textLength="17" lengthAdjust="spacingAndGlyphs" stroke="#000" stroke-width="0.15" filter="url(#idf)">Jun</text>
<text x="114.5" y="328.9" font-size="9" font-weight="normal" fill="#000" text-anchor="middle" textLength="14" lengthAdjust="spacingAndGlyphs" stroke="#000" stroke-width="0.15" filter="url(#idf)">Jul</text>
<text x="114.5" y="444.8" font-size="9" font-weight="normal" fill="#000" text-anchor="middle" textLength="14" lengthAdjust="spacingAndGlyphs" stroke="#000" stroke-width="0.15" filter="url(#idf)">Jul</text>
<text x="174.5" y="328.9" font-size="9" font-weight="normal" fill="#000" text-anchor="middle" textLength="17" lengthAdjust="spacingAndGlyphs" stroke="#000" stroke-width="0.15" filter="url(#idf)">Aug</text>
<text x="174.5" y="444.8" font-size="9" font-weight="normal" fill="#000" text-anchor="middle" textLength="17" lengthAdjust="spacingAndGlyphs" stroke="#000" stroke-width="0.15" filter="url(#idf)">Aug</text>
<text x="243.5" y="328.9" font-size="9" font-weight="normal" fill="#000" text-anchor="middle" textLength="17" lengthAdjust="spacingAndGlyphs" stroke="#000" stroke-width="0.15" filter="url(#idf)">Sep</text>
<text x="243.5" y="444.8" font-size="9" font-weight="normal" fill="#000" text-anchor="middle" textLength="17" lengthAdjust="spacingAndGlyphs" stroke="#000" stroke-width="0.15" filter="url(#idf)">Sep</text>
<text x="306.5" y="328.9" font-size="9" font-weight="normal" fill="#000" text-anchor="middle" textLength="17" lengthAdjust="spacingAndGlyphs" stroke="#000" stroke-width="0.15" filter="url(#idf)">Oct</text>
<text x="306.5" y="444.8" font-size="9" font-weight="normal" fill="#000" text-anchor="middle" textLength="17" lengthAdjust="spacingAndGlyphs" stroke="#000" stroke-width="0.15" filter="url(#idf)">Oct</text>
<text x="369.5" y="328.9" font-size="9" font-weight="normal" fill="#000" text-anchor="middle" textLength="17" lengthAdjust="spacingAndGlyphs" stroke="#000" stroke-width="0.15" filter="url(#idf)">Nov</text>
<text x="369.5" y="444.8" font-size="9" font-weight="normal" fill="#000" text-anchor="middle" textLength="17" lengthAdjust="spacingAndGlyphs" stroke="#000" stroke-width="0.15" filter="url(#idf)">Nov</text>
<text x="432.5" y="328.9" font-size="9" font-weight="normal" fill="#000" text-anchor="middle" textLength="17" lengthAdjust="spacingAndGlyphs" stroke="#000" stroke-width="0.15" filter="url(#idf)">Dec</text>
<text x="432.5" y="444.8" font-size="9" font-weight="normal" fill="#000" text-anchor="middle" textLength="17" lengthAdjust="spacingAndGlyphs" stroke="#000" stroke-width="0.15" filter="url(#idf)">Dec</text>
<text x="495.3" y="328.9" font-size="10" font-weight="bold" fill="#000" text-anchor="middle" textLength="24.5" lengthAdjust="spacingAndGlyphs" filter="url(#idf)">2012</text>
<text x="495.3" y="444.8" font-size="10" font-weight="bold" fill="#000" text-anchor="middle" textLength="24.5" lengthAdjust="spacingAndGlyphs" filter="url(#idf)">2012</text>
<text x="555.5" y="328.9" font-size="9" font-weight="normal" fill="#000" text-anchor="middle" textLength="17" lengthAdjust="spacingAndGlyphs" stroke="#000" stroke-width="0.15" filter="url(#idf)">Feb</text>
<text x="555.5" y="444.8" font-size="9" font-weight="normal" fill="#000" text-anchor="middle" textLength="17" lengthAdjust="spacingAndGlyphs" stroke="#000" stroke-width="0.15" filter="url(#idf)">Feb</text>
<text x="615.5" y="328.9" font-size="9" font-weight="normal" fill="#000" text-anchor="middle" textLength="17" lengthAdjust="spacingAndGlyphs" stroke="#000" stroke-width="0.15" filter="url(#idf)">Mar</text>
<text x="615.5" y="444.8" font-size="9" font-weight="normal" fill="#000" text-anchor="middle" textLength="17" lengthAdjust="spacingAndGlyphs" stroke="#000" stroke-width="0.15" filter="url(#idf)">Mar</text>
</svg>
</body></html>
